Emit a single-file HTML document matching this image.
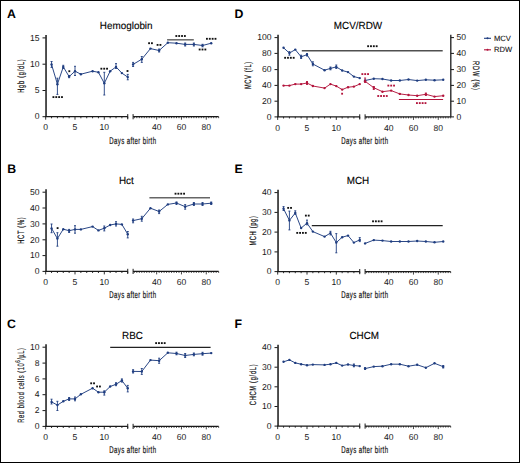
<!DOCTYPE html>
<html><head><meta charset="utf-8"><title>Figure</title>
<style>
html,body{margin:0;padding:0;background:#fff;}
body{width:520px;height:463px;overflow:hidden;}
svg{display:block;font-family:"Liberation Sans", sans-serif;text-rendering:geometricPrecision;}
</style></head>
<body>
<svg width="520" height="463" viewBox="0 0 520 463">
<rect x="0" y="0" width="520" height="463" fill="#fff"/>
<text x="7.00" y="17.90" font-size="12.3" text-anchor="start" font-weight="bold" fill="#000" >A</text>
<text x="7.30" y="172.80" font-size="12.3" text-anchor="start" font-weight="bold" fill="#000" >B</text>
<text x="7.00" y="327.80" font-size="12.3" text-anchor="start" font-weight="bold" fill="#000" >C</text>
<text x="234.60" y="17.90" font-size="12.3" text-anchor="start" font-weight="bold" fill="#000" >D</text>
<text x="234.60" y="172.80" font-size="12.3" text-anchor="start" font-weight="bold" fill="#000" >E</text>
<text x="234.60" y="327.80" font-size="12.3" text-anchor="start" font-weight="bold" fill="#000" >F</text>
<text transform="translate(126.20,29.20) scale(1,1.04)" x="0" y="0" font-size="9.9" text-anchor="middle" font-weight="normal" fill="#000" stroke="#000" stroke-width="0.12">Hemoglobin</text>
<text transform="translate(126.30,184.10) scale(1,1.04)" x="0" y="0" font-size="9.9" text-anchor="middle" font-weight="normal" fill="#000" stroke="#000" stroke-width="0.12">Hct</text>
<text transform="translate(132.50,338.70) scale(1,1.04)" x="0" y="0" font-size="9.9" text-anchor="middle" font-weight="normal" fill="#000" stroke="#000" stroke-width="0.12">RBC</text>
<text transform="translate(358.00,29.20) scale(1,1.04)" x="0" y="0" font-size="9.9" text-anchor="middle" font-weight="normal" fill="#000" stroke="#000" stroke-width="0.12">MCV/RDW</text>
<text transform="translate(358.00,183.90) scale(1,1.04)" x="0" y="0" font-size="9.9" text-anchor="middle" font-weight="normal" fill="#000" stroke="#000" stroke-width="0.12">MCH</text>
<text transform="translate(364.20,338.80) scale(1,1.04)" x="0" y="0" font-size="9.9" text-anchor="middle" font-weight="normal" fill="#000" stroke="#000" stroke-width="0.12">CHCM</text>
<line x1="46.05" y1="35.00" x2="46.05" y2="116.7" stroke="#484848" stroke-width="1.9"/>
<line x1="42.5" y1="116.70" x2="45.7" y2="116.70" stroke="#1a1a1a" stroke-width="1"/>
<text x="39.60" y="119.45" font-size="8.6" text-anchor="end" font-weight="normal" fill="#1a1a1a" >0</text>
<line x1="42.5" y1="90.50" x2="45.7" y2="90.50" stroke="#1a1a1a" stroke-width="1"/>
<text x="39.60" y="93.25" font-size="8.6" text-anchor="end" font-weight="normal" fill="#1a1a1a" >5</text>
<line x1="42.5" y1="64.20" x2="45.7" y2="64.20" stroke="#1a1a1a" stroke-width="1"/>
<text x="39.60" y="66.95" font-size="8.6" text-anchor="end" font-weight="normal" fill="#1a1a1a" >10</text>
<line x1="42.5" y1="37.90" x2="45.7" y2="37.90" stroke="#1a1a1a" stroke-width="1"/>
<text x="39.60" y="40.65" font-size="8.6" text-anchor="end" font-weight="normal" fill="#1a1a1a" >15</text>
<line x1="45.1" y1="116.7" x2="127.74" y2="116.7" stroke="#1a1a1a" stroke-width="1.3"/>
<line x1="127.74" y1="114.10000000000001" x2="127.74" y2="119.3" stroke="#1a1a1a" stroke-width="1"/>
<line x1="45.70" y1="116.7" x2="45.70" y2="119.7" stroke="#1a1a1a" stroke-width="0.9"/>
<line x1="51.56" y1="116.7" x2="51.56" y2="118.3" stroke="#1a1a1a" stroke-width="0.9"/>
<line x1="57.42" y1="116.7" x2="57.42" y2="118.3" stroke="#1a1a1a" stroke-width="0.9"/>
<line x1="63.28" y1="116.7" x2="63.28" y2="118.3" stroke="#1a1a1a" stroke-width="0.9"/>
<line x1="69.14" y1="116.7" x2="69.14" y2="118.3" stroke="#1a1a1a" stroke-width="0.9"/>
<line x1="75.00" y1="116.7" x2="75.00" y2="119.7" stroke="#1a1a1a" stroke-width="0.9"/>
<line x1="80.86" y1="116.7" x2="80.86" y2="118.3" stroke="#1a1a1a" stroke-width="0.9"/>
<line x1="86.72" y1="116.7" x2="86.72" y2="118.3" stroke="#1a1a1a" stroke-width="0.9"/>
<line x1="92.58" y1="116.7" x2="92.58" y2="118.3" stroke="#1a1a1a" stroke-width="0.9"/>
<line x1="98.44" y1="116.7" x2="98.44" y2="118.3" stroke="#1a1a1a" stroke-width="0.9"/>
<line x1="104.30" y1="116.7" x2="104.30" y2="119.7" stroke="#1a1a1a" stroke-width="0.9"/>
<line x1="110.16" y1="116.7" x2="110.16" y2="118.3" stroke="#1a1a1a" stroke-width="0.9"/>
<line x1="116.02" y1="116.7" x2="116.02" y2="118.3" stroke="#1a1a1a" stroke-width="0.9"/>
<line x1="121.88" y1="116.7" x2="121.88" y2="118.3" stroke="#1a1a1a" stroke-width="0.9"/>
<line x1="127.74" y1="116.7" x2="127.74" y2="118.3" stroke="#1a1a1a" stroke-width="0.9"/>
<text x="45.70" y="130.30" font-size="8.6" text-anchor="middle" font-weight="normal" fill="#1a1a1a" >0</text>
<text x="75.00" y="130.30" font-size="8.6" text-anchor="middle" font-weight="normal" fill="#1a1a1a" >5</text>
<text x="104.30" y="130.30" font-size="8.6" text-anchor="middle" font-weight="normal" fill="#1a1a1a" >10</text>
<line x1="133.10" y1="116.7" x2="218.66" y2="116.7" stroke="#1a1a1a" stroke-width="1.3"/>
<line x1="133.10" y1="114.10000000000001" x2="133.10" y2="119.3" stroke="#1a1a1a" stroke-width="1"/>
<line x1="134.34" y1="116.7" x2="134.34" y2="118.2" stroke="#1a1a1a" stroke-width="0.8"/>
<line x1="136.82" y1="116.7" x2="136.82" y2="118.2" stroke="#1a1a1a" stroke-width="0.8"/>
<line x1="139.30" y1="116.7" x2="139.30" y2="118.2" stroke="#1a1a1a" stroke-width="0.8"/>
<line x1="141.78" y1="116.7" x2="141.78" y2="118.2" stroke="#1a1a1a" stroke-width="0.8"/>
<line x1="144.26" y1="116.7" x2="144.26" y2="118.2" stroke="#1a1a1a" stroke-width="0.8"/>
<line x1="146.74" y1="116.7" x2="146.74" y2="118.2" stroke="#1a1a1a" stroke-width="0.8"/>
<line x1="149.22" y1="116.7" x2="149.22" y2="118.2" stroke="#1a1a1a" stroke-width="0.8"/>
<line x1="151.70" y1="116.7" x2="151.70" y2="118.2" stroke="#1a1a1a" stroke-width="0.8"/>
<line x1="154.18" y1="116.7" x2="154.18" y2="118.2" stroke="#1a1a1a" stroke-width="0.8"/>
<line x1="156.66" y1="116.7" x2="156.66" y2="119.7" stroke="#1a1a1a" stroke-width="0.8"/>
<line x1="159.14" y1="116.7" x2="159.14" y2="118.2" stroke="#1a1a1a" stroke-width="0.8"/>
<line x1="161.62" y1="116.7" x2="161.62" y2="118.2" stroke="#1a1a1a" stroke-width="0.8"/>
<line x1="164.10" y1="116.7" x2="164.10" y2="118.2" stroke="#1a1a1a" stroke-width="0.8"/>
<line x1="166.58" y1="116.7" x2="166.58" y2="118.2" stroke="#1a1a1a" stroke-width="0.8"/>
<line x1="169.06" y1="116.7" x2="169.06" y2="118.2" stroke="#1a1a1a" stroke-width="0.8"/>
<line x1="171.54" y1="116.7" x2="171.54" y2="118.2" stroke="#1a1a1a" stroke-width="0.8"/>
<line x1="174.02" y1="116.7" x2="174.02" y2="118.2" stroke="#1a1a1a" stroke-width="0.8"/>
<line x1="176.50" y1="116.7" x2="176.50" y2="118.2" stroke="#1a1a1a" stroke-width="0.8"/>
<line x1="178.98" y1="116.7" x2="178.98" y2="118.2" stroke="#1a1a1a" stroke-width="0.8"/>
<line x1="181.46" y1="116.7" x2="181.46" y2="119.7" stroke="#1a1a1a" stroke-width="0.8"/>
<line x1="183.94" y1="116.7" x2="183.94" y2="118.2" stroke="#1a1a1a" stroke-width="0.8"/>
<line x1="186.42" y1="116.7" x2="186.42" y2="118.2" stroke="#1a1a1a" stroke-width="0.8"/>
<line x1="188.90" y1="116.7" x2="188.90" y2="118.2" stroke="#1a1a1a" stroke-width="0.8"/>
<line x1="191.38" y1="116.7" x2="191.38" y2="118.2" stroke="#1a1a1a" stroke-width="0.8"/>
<line x1="193.86" y1="116.7" x2="193.86" y2="118.2" stroke="#1a1a1a" stroke-width="0.8"/>
<line x1="196.34" y1="116.7" x2="196.34" y2="118.2" stroke="#1a1a1a" stroke-width="0.8"/>
<line x1="198.82" y1="116.7" x2="198.82" y2="118.2" stroke="#1a1a1a" stroke-width="0.8"/>
<line x1="201.30" y1="116.7" x2="201.30" y2="118.2" stroke="#1a1a1a" stroke-width="0.8"/>
<line x1="203.78" y1="116.7" x2="203.78" y2="118.2" stroke="#1a1a1a" stroke-width="0.8"/>
<line x1="206.26" y1="116.7" x2="206.26" y2="119.7" stroke="#1a1a1a" stroke-width="0.8"/>
<line x1="208.74" y1="116.7" x2="208.74" y2="118.2" stroke="#1a1a1a" stroke-width="0.8"/>
<line x1="211.22" y1="116.7" x2="211.22" y2="118.2" stroke="#1a1a1a" stroke-width="0.8"/>
<line x1="213.70" y1="116.7" x2="213.70" y2="118.2" stroke="#1a1a1a" stroke-width="0.8"/>
<line x1="216.18" y1="116.7" x2="216.18" y2="118.2" stroke="#1a1a1a" stroke-width="0.8"/>
<line x1="218.66" y1="116.7" x2="218.66" y2="118.2" stroke="#1a1a1a" stroke-width="0.8"/>
<text x="156.66" y="130.30" font-size="8.6" text-anchor="middle" font-weight="normal" fill="#1a1a1a" >40</text>
<text x="181.46" y="130.30" font-size="8.6" text-anchor="middle" font-weight="normal" fill="#1a1a1a" >60</text>
<text x="206.26" y="130.30" font-size="8.6" text-anchor="middle" font-weight="normal" fill="#1a1a1a" >80</text>
<g transform="translate(132.68,143.70) rotate(0) scale(0.62,1)"><text x="0" y="0" font-size="9.8" text-anchor="middle" fill="#111" stroke="#111" stroke-width="0.2" textLength="75.32" lengthAdjust="spacing">Days after birth</text></g>
<g transform="translate(23.60,76.00) rotate(-90) scale(0.62,1)"><text x="0" y="0" font-size="9.2" text-anchor="middle" fill="#111" stroke="#111" stroke-width="0.22" textLength="54.03" lengthAdjust="spacing">Hgb (g/dL)</text></g>
<polyline points="51.56,64.50 57.42,84.20 63.28,66.90 69.14,76.60 75.00,71.20 80.86,74.20 92.58,71.20 98.44,72.30 104.30,83.30 110.16,71.20 116.02,66.90 121.88,73.10 127.74,77.10" fill="none" stroke="#1f3d80" stroke-width="0.95" stroke-linejoin="round"/>
<polyline points="133.10,64.40 141.78,59.20 150.46,48.60 159.14,50.50 167.82,42.70 176.50,43.20 185.18,44.40 193.86,44.40 202.54,45.50 211.22,43.20" fill="none" stroke="#1f3d80" stroke-width="0.95" stroke-linejoin="round"/>
<line x1="51.56" y1="61.50" x2="51.56" y2="67.40" stroke="#1f3d80" stroke-width="0.9"/>
<line x1="50.56" y1="61.50" x2="52.56" y2="61.50" stroke="#1f3d80" stroke-width="0.9"/>
<line x1="50.56" y1="67.40" x2="52.56" y2="67.40" stroke="#1f3d80" stroke-width="0.9"/>
<circle cx="51.56" cy="64.50" r="1.2" fill="#1f3d80"/>
<line x1="57.42" y1="78.20" x2="57.42" y2="94.40" stroke="#1f3d80" stroke-width="0.9"/>
<line x1="56.42" y1="78.20" x2="58.42" y2="78.20" stroke="#1f3d80" stroke-width="0.9"/>
<line x1="56.42" y1="94.40" x2="58.42" y2="94.40" stroke="#1f3d80" stroke-width="0.9"/>
<circle cx="57.42" cy="84.20" r="1.2" fill="#1f3d80"/>
<line x1="63.28" y1="65.30" x2="63.28" y2="68.50" stroke="#1f3d80" stroke-width="0.9"/>
<line x1="62.28" y1="65.30" x2="64.28" y2="65.30" stroke="#1f3d80" stroke-width="0.9"/>
<line x1="62.28" y1="68.50" x2="64.28" y2="68.50" stroke="#1f3d80" stroke-width="0.9"/>
<circle cx="63.28" cy="66.90" r="1.2" fill="#1f3d80"/>
<line x1="69.14" y1="75.50" x2="69.14" y2="77.70" stroke="#1f3d80" stroke-width="0.9"/>
<line x1="68.14" y1="75.50" x2="70.14" y2="75.50" stroke="#1f3d80" stroke-width="0.9"/>
<line x1="68.14" y1="77.70" x2="70.14" y2="77.70" stroke="#1f3d80" stroke-width="0.9"/>
<circle cx="69.14" cy="76.60" r="1.2" fill="#1f3d80"/>
<line x1="75.00" y1="66.30" x2="75.00" y2="75.50" stroke="#1f3d80" stroke-width="0.9"/>
<line x1="74.00" y1="66.30" x2="76.00" y2="66.30" stroke="#1f3d80" stroke-width="0.9"/>
<line x1="74.00" y1="75.50" x2="76.00" y2="75.50" stroke="#1f3d80" stroke-width="0.9"/>
<circle cx="75.00" cy="71.20" r="1.2" fill="#1f3d80"/>
<circle cx="80.86" cy="74.20" r="1.2" fill="#1f3d80"/>
<circle cx="92.58" cy="71.20" r="1.2" fill="#1f3d80"/>
<circle cx="98.44" cy="72.30" r="1.2" fill="#1f3d80"/>
<line x1="104.30" y1="72.30" x2="104.30" y2="95.00" stroke="#1f3d80" stroke-width="0.9"/>
<line x1="103.30" y1="72.30" x2="105.30" y2="72.30" stroke="#1f3d80" stroke-width="0.9"/>
<line x1="103.30" y1="95.00" x2="105.30" y2="95.00" stroke="#1f3d80" stroke-width="0.9"/>
<circle cx="104.30" cy="83.30" r="1.2" fill="#1f3d80"/>
<circle cx="110.16" cy="71.20" r="1.2" fill="#1f3d80"/>
<line x1="116.02" y1="63.60" x2="116.02" y2="68.50" stroke="#1f3d80" stroke-width="0.9"/>
<line x1="115.02" y1="63.60" x2="117.02" y2="63.60" stroke="#1f3d80" stroke-width="0.9"/>
<line x1="115.02" y1="68.50" x2="117.02" y2="68.50" stroke="#1f3d80" stroke-width="0.9"/>
<circle cx="116.02" cy="66.90" r="1.2" fill="#1f3d80"/>
<circle cx="121.88" cy="73.10" r="1.2" fill="#1f3d80"/>
<line x1="127.74" y1="74.40" x2="127.74" y2="79.80" stroke="#1f3d80" stroke-width="0.9"/>
<line x1="126.74" y1="74.40" x2="128.74" y2="74.40" stroke="#1f3d80" stroke-width="0.9"/>
<line x1="126.74" y1="79.80" x2="128.74" y2="79.80" stroke="#1f3d80" stroke-width="0.9"/>
<circle cx="127.74" cy="77.10" r="1.2" fill="#1f3d80"/>
<line x1="133.10" y1="62.40" x2="133.10" y2="66.50" stroke="#1f3d80" stroke-width="0.9"/>
<line x1="132.10" y1="62.40" x2="134.10" y2="62.40" stroke="#1f3d80" stroke-width="0.9"/>
<line x1="132.10" y1="66.50" x2="134.10" y2="66.50" stroke="#1f3d80" stroke-width="0.9"/>
<circle cx="133.10" cy="64.40" r="1.2" fill="#1f3d80"/>
<line x1="141.78" y1="56.50" x2="141.78" y2="62.40" stroke="#1f3d80" stroke-width="0.9"/>
<line x1="140.78" y1="56.50" x2="142.78" y2="56.50" stroke="#1f3d80" stroke-width="0.9"/>
<line x1="140.78" y1="62.40" x2="142.78" y2="62.40" stroke="#1f3d80" stroke-width="0.9"/>
<circle cx="141.78" cy="59.20" r="1.2" fill="#1f3d80"/>
<circle cx="150.46" cy="48.60" r="1.2" fill="#1f3d80"/>
<line x1="159.14" y1="49.00" x2="159.14" y2="52.00" stroke="#1f3d80" stroke-width="0.9"/>
<line x1="158.14" y1="49.00" x2="160.14" y2="49.00" stroke="#1f3d80" stroke-width="0.9"/>
<line x1="158.14" y1="52.00" x2="160.14" y2="52.00" stroke="#1f3d80" stroke-width="0.9"/>
<circle cx="159.14" cy="50.50" r="1.2" fill="#1f3d80"/>
<circle cx="167.82" cy="42.70" r="1.2" fill="#1f3d80"/>
<circle cx="176.50" cy="43.20" r="1.2" fill="#1f3d80"/>
<line x1="185.18" y1="43.00" x2="185.18" y2="46.00" stroke="#1f3d80" stroke-width="0.9"/>
<line x1="184.18" y1="43.00" x2="186.18" y2="43.00" stroke="#1f3d80" stroke-width="0.9"/>
<line x1="184.18" y1="46.00" x2="186.18" y2="46.00" stroke="#1f3d80" stroke-width="0.9"/>
<circle cx="185.18" cy="44.40" r="1.2" fill="#1f3d80"/>
<line x1="193.86" y1="43.00" x2="193.86" y2="46.00" stroke="#1f3d80" stroke-width="0.9"/>
<line x1="192.86" y1="43.00" x2="194.86" y2="43.00" stroke="#1f3d80" stroke-width="0.9"/>
<line x1="192.86" y1="46.00" x2="194.86" y2="46.00" stroke="#1f3d80" stroke-width="0.9"/>
<circle cx="193.86" cy="44.40" r="1.2" fill="#1f3d80"/>
<line x1="202.54" y1="44.30" x2="202.54" y2="46.80" stroke="#1f3d80" stroke-width="0.9"/>
<line x1="201.54" y1="44.30" x2="203.54" y2="44.30" stroke="#1f3d80" stroke-width="0.9"/>
<line x1="201.54" y1="46.80" x2="203.54" y2="46.80" stroke="#1f3d80" stroke-width="0.9"/>
<circle cx="202.54" cy="45.50" r="1.2" fill="#1f3d80"/>
<circle cx="211.22" cy="43.20" r="1.2" fill="#1f3d80"/>
<rect x="52.50" y="96.17" width="1.85" height="1.85" fill="#111"/>
<rect x="55.35" y="96.17" width="1.85" height="1.85" fill="#111"/>
<rect x="58.20" y="96.17" width="1.85" height="1.85" fill="#111"/>
<rect x="61.05" y="96.17" width="1.85" height="1.85" fill="#111"/>
<rect x="68.38" y="70.28" width="1.85" height="1.85" fill="#111"/>
<rect x="100.43" y="67.78" width="1.85" height="1.85" fill="#111"/>
<rect x="103.28" y="67.78" width="1.85" height="1.85" fill="#111"/>
<rect x="106.13" y="67.78" width="1.85" height="1.85" fill="#111"/>
<rect x="126.58" y="70.08" width="1.85" height="1.85" fill="#111"/>
<rect x="148.15" y="42.28" width="1.85" height="1.85" fill="#111"/>
<rect x="151.00" y="42.28" width="1.85" height="1.85" fill="#111"/>
<rect x="156.65" y="43.98" width="1.85" height="1.85" fill="#111"/>
<rect x="159.50" y="43.98" width="1.85" height="1.85" fill="#111"/>
<line x1="167.1" y1="39.8" x2="193.8" y2="39.8" stroke="#666" stroke-width="1.5"/>
<rect x="175.40" y="35.08" width="1.85" height="1.85" fill="#111"/>
<rect x="178.25" y="35.08" width="1.85" height="1.85" fill="#111"/>
<rect x="181.10" y="35.08" width="1.85" height="1.85" fill="#111"/>
<rect x="183.95" y="35.08" width="1.85" height="1.85" fill="#111"/>
<rect x="198.72" y="48.58" width="1.85" height="1.85" fill="#111"/>
<rect x="201.57" y="48.58" width="1.85" height="1.85" fill="#111"/>
<rect x="204.42" y="48.58" width="1.85" height="1.85" fill="#111"/>
<rect x="206.00" y="37.88" width="1.85" height="1.85" fill="#111"/>
<rect x="208.85" y="37.88" width="1.85" height="1.85" fill="#111"/>
<rect x="211.70" y="37.88" width="1.85" height="1.85" fill="#111"/>
<rect x="214.55" y="37.88" width="1.85" height="1.85" fill="#111"/>
<line x1="46.05" y1="189.30" x2="46.05" y2="271.4" stroke="#484848" stroke-width="1.9"/>
<line x1="42.5" y1="271.40" x2="45.7" y2="271.40" stroke="#1a1a1a" stroke-width="1"/>
<text x="39.60" y="274.15" font-size="8.6" text-anchor="end" font-weight="normal" fill="#1a1a1a" >0</text>
<line x1="42.5" y1="255.60" x2="45.7" y2="255.60" stroke="#1a1a1a" stroke-width="1"/>
<text x="39.60" y="258.35" font-size="8.6" text-anchor="end" font-weight="normal" fill="#1a1a1a" >10</text>
<line x1="42.5" y1="239.80" x2="45.7" y2="239.80" stroke="#1a1a1a" stroke-width="1"/>
<text x="39.60" y="242.55" font-size="8.6" text-anchor="end" font-weight="normal" fill="#1a1a1a" >20</text>
<line x1="42.5" y1="223.90" x2="45.7" y2="223.90" stroke="#1a1a1a" stroke-width="1"/>
<text x="39.60" y="226.65" font-size="8.6" text-anchor="end" font-weight="normal" fill="#1a1a1a" >30</text>
<line x1="42.5" y1="208.00" x2="45.7" y2="208.00" stroke="#1a1a1a" stroke-width="1"/>
<text x="39.60" y="210.75" font-size="8.6" text-anchor="end" font-weight="normal" fill="#1a1a1a" >40</text>
<line x1="42.5" y1="192.20" x2="45.7" y2="192.20" stroke="#1a1a1a" stroke-width="1"/>
<text x="39.60" y="194.95" font-size="8.6" text-anchor="end" font-weight="normal" fill="#1a1a1a" >50</text>
<line x1="45.1" y1="271.4" x2="127.74" y2="271.4" stroke="#1a1a1a" stroke-width="1.3"/>
<line x1="127.74" y1="268.79999999999995" x2="127.74" y2="274.0" stroke="#1a1a1a" stroke-width="1"/>
<line x1="45.70" y1="271.4" x2="45.70" y2="274.4" stroke="#1a1a1a" stroke-width="0.9"/>
<line x1="51.56" y1="271.4" x2="51.56" y2="273.0" stroke="#1a1a1a" stroke-width="0.9"/>
<line x1="57.42" y1="271.4" x2="57.42" y2="273.0" stroke="#1a1a1a" stroke-width="0.9"/>
<line x1="63.28" y1="271.4" x2="63.28" y2="273.0" stroke="#1a1a1a" stroke-width="0.9"/>
<line x1="69.14" y1="271.4" x2="69.14" y2="273.0" stroke="#1a1a1a" stroke-width="0.9"/>
<line x1="75.00" y1="271.4" x2="75.00" y2="274.4" stroke="#1a1a1a" stroke-width="0.9"/>
<line x1="80.86" y1="271.4" x2="80.86" y2="273.0" stroke="#1a1a1a" stroke-width="0.9"/>
<line x1="86.72" y1="271.4" x2="86.72" y2="273.0" stroke="#1a1a1a" stroke-width="0.9"/>
<line x1="92.58" y1="271.4" x2="92.58" y2="273.0" stroke="#1a1a1a" stroke-width="0.9"/>
<line x1="98.44" y1="271.4" x2="98.44" y2="273.0" stroke="#1a1a1a" stroke-width="0.9"/>
<line x1="104.30" y1="271.4" x2="104.30" y2="274.4" stroke="#1a1a1a" stroke-width="0.9"/>
<line x1="110.16" y1="271.4" x2="110.16" y2="273.0" stroke="#1a1a1a" stroke-width="0.9"/>
<line x1="116.02" y1="271.4" x2="116.02" y2="273.0" stroke="#1a1a1a" stroke-width="0.9"/>
<line x1="121.88" y1="271.4" x2="121.88" y2="273.0" stroke="#1a1a1a" stroke-width="0.9"/>
<line x1="127.74" y1="271.4" x2="127.74" y2="273.0" stroke="#1a1a1a" stroke-width="0.9"/>
<text x="45.70" y="285.00" font-size="8.6" text-anchor="middle" font-weight="normal" fill="#1a1a1a" >0</text>
<text x="75.00" y="285.00" font-size="8.6" text-anchor="middle" font-weight="normal" fill="#1a1a1a" >5</text>
<text x="104.30" y="285.00" font-size="8.6" text-anchor="middle" font-weight="normal" fill="#1a1a1a" >10</text>
<line x1="133.10" y1="271.4" x2="218.66" y2="271.4" stroke="#1a1a1a" stroke-width="1.3"/>
<line x1="133.10" y1="268.79999999999995" x2="133.10" y2="274.0" stroke="#1a1a1a" stroke-width="1"/>
<line x1="134.34" y1="271.4" x2="134.34" y2="272.9" stroke="#1a1a1a" stroke-width="0.8"/>
<line x1="136.82" y1="271.4" x2="136.82" y2="272.9" stroke="#1a1a1a" stroke-width="0.8"/>
<line x1="139.30" y1="271.4" x2="139.30" y2="272.9" stroke="#1a1a1a" stroke-width="0.8"/>
<line x1="141.78" y1="271.4" x2="141.78" y2="272.9" stroke="#1a1a1a" stroke-width="0.8"/>
<line x1="144.26" y1="271.4" x2="144.26" y2="272.9" stroke="#1a1a1a" stroke-width="0.8"/>
<line x1="146.74" y1="271.4" x2="146.74" y2="272.9" stroke="#1a1a1a" stroke-width="0.8"/>
<line x1="149.22" y1="271.4" x2="149.22" y2="272.9" stroke="#1a1a1a" stroke-width="0.8"/>
<line x1="151.70" y1="271.4" x2="151.70" y2="272.9" stroke="#1a1a1a" stroke-width="0.8"/>
<line x1="154.18" y1="271.4" x2="154.18" y2="272.9" stroke="#1a1a1a" stroke-width="0.8"/>
<line x1="156.66" y1="271.4" x2="156.66" y2="274.4" stroke="#1a1a1a" stroke-width="0.8"/>
<line x1="159.14" y1="271.4" x2="159.14" y2="272.9" stroke="#1a1a1a" stroke-width="0.8"/>
<line x1="161.62" y1="271.4" x2="161.62" y2="272.9" stroke="#1a1a1a" stroke-width="0.8"/>
<line x1="164.10" y1="271.4" x2="164.10" y2="272.9" stroke="#1a1a1a" stroke-width="0.8"/>
<line x1="166.58" y1="271.4" x2="166.58" y2="272.9" stroke="#1a1a1a" stroke-width="0.8"/>
<line x1="169.06" y1="271.4" x2="169.06" y2="272.9" stroke="#1a1a1a" stroke-width="0.8"/>
<line x1="171.54" y1="271.4" x2="171.54" y2="272.9" stroke="#1a1a1a" stroke-width="0.8"/>
<line x1="174.02" y1="271.4" x2="174.02" y2="272.9" stroke="#1a1a1a" stroke-width="0.8"/>
<line x1="176.50" y1="271.4" x2="176.50" y2="272.9" stroke="#1a1a1a" stroke-width="0.8"/>
<line x1="178.98" y1="271.4" x2="178.98" y2="272.9" stroke="#1a1a1a" stroke-width="0.8"/>
<line x1="181.46" y1="271.4" x2="181.46" y2="274.4" stroke="#1a1a1a" stroke-width="0.8"/>
<line x1="183.94" y1="271.4" x2="183.94" y2="272.9" stroke="#1a1a1a" stroke-width="0.8"/>
<line x1="186.42" y1="271.4" x2="186.42" y2="272.9" stroke="#1a1a1a" stroke-width="0.8"/>
<line x1="188.90" y1="271.4" x2="188.90" y2="272.9" stroke="#1a1a1a" stroke-width="0.8"/>
<line x1="191.38" y1="271.4" x2="191.38" y2="272.9" stroke="#1a1a1a" stroke-width="0.8"/>
<line x1="193.86" y1="271.4" x2="193.86" y2="272.9" stroke="#1a1a1a" stroke-width="0.8"/>
<line x1="196.34" y1="271.4" x2="196.34" y2="272.9" stroke="#1a1a1a" stroke-width="0.8"/>
<line x1="198.82" y1="271.4" x2="198.82" y2="272.9" stroke="#1a1a1a" stroke-width="0.8"/>
<line x1="201.30" y1="271.4" x2="201.30" y2="272.9" stroke="#1a1a1a" stroke-width="0.8"/>
<line x1="203.78" y1="271.4" x2="203.78" y2="272.9" stroke="#1a1a1a" stroke-width="0.8"/>
<line x1="206.26" y1="271.4" x2="206.26" y2="274.4" stroke="#1a1a1a" stroke-width="0.8"/>
<line x1="208.74" y1="271.4" x2="208.74" y2="272.9" stroke="#1a1a1a" stroke-width="0.8"/>
<line x1="211.22" y1="271.4" x2="211.22" y2="272.9" stroke="#1a1a1a" stroke-width="0.8"/>
<line x1="213.70" y1="271.4" x2="213.70" y2="272.9" stroke="#1a1a1a" stroke-width="0.8"/>
<line x1="216.18" y1="271.4" x2="216.18" y2="272.9" stroke="#1a1a1a" stroke-width="0.8"/>
<line x1="218.66" y1="271.4" x2="218.66" y2="272.9" stroke="#1a1a1a" stroke-width="0.8"/>
<text x="156.66" y="285.00" font-size="8.6" text-anchor="middle" font-weight="normal" fill="#1a1a1a" >40</text>
<text x="181.46" y="285.00" font-size="8.6" text-anchor="middle" font-weight="normal" fill="#1a1a1a" >60</text>
<text x="206.26" y="285.00" font-size="8.6" text-anchor="middle" font-weight="normal" fill="#1a1a1a" >80</text>
<g transform="translate(132.68,298.40) rotate(0) scale(0.62,1)"><text x="0" y="0" font-size="9.8" text-anchor="middle" fill="#111" stroke="#111" stroke-width="0.2" textLength="75.32" lengthAdjust="spacing">Days after birth</text></g>
<g transform="translate(23.90,230.60) rotate(-90) scale(0.62,1)"><text x="0" y="0" font-size="9.2" text-anchor="middle" fill="#111" stroke="#111" stroke-width="0.22" textLength="42.58" lengthAdjust="spacing">HCT (%)</text></g>
<polyline points="51.56,228.40 57.42,238.60 63.28,229.20 69.14,230.70 75.00,229.40 80.86,229.40 92.58,226.60 98.44,230.40 104.30,228.20 110.16,225.00 116.02,223.90 121.88,224.40 127.74,234.20" fill="none" stroke="#1f3d80" stroke-width="0.95" stroke-linejoin="round"/>
<polyline points="133.10,220.60 141.78,218.70 150.46,208.20 159.14,211.50 167.82,204.40 176.50,203.00 185.18,206.70 193.86,204.00 202.54,204.00 211.22,203.20" fill="none" stroke="#1f3d80" stroke-width="0.95" stroke-linejoin="round"/>
<line x1="51.56" y1="224.00" x2="51.56" y2="232.70" stroke="#1f3d80" stroke-width="0.9"/>
<line x1="50.56" y1="224.00" x2="52.56" y2="224.00" stroke="#1f3d80" stroke-width="0.9"/>
<line x1="50.56" y1="232.70" x2="52.56" y2="232.70" stroke="#1f3d80" stroke-width="0.9"/>
<circle cx="51.56" cy="228.40" r="1.2" fill="#1f3d80"/>
<line x1="57.42" y1="232.70" x2="57.42" y2="246.20" stroke="#1f3d80" stroke-width="0.9"/>
<line x1="56.42" y1="232.70" x2="58.42" y2="232.70" stroke="#1f3d80" stroke-width="0.9"/>
<line x1="56.42" y1="246.20" x2="58.42" y2="246.20" stroke="#1f3d80" stroke-width="0.9"/>
<circle cx="57.42" cy="238.60" r="1.2" fill="#1f3d80"/>
<circle cx="63.28" cy="229.20" r="1.2" fill="#1f3d80"/>
<line x1="69.14" y1="229.40" x2="69.14" y2="232.50" stroke="#1f3d80" stroke-width="0.9"/>
<line x1="68.14" y1="229.40" x2="70.14" y2="229.40" stroke="#1f3d80" stroke-width="0.9"/>
<line x1="68.14" y1="232.50" x2="70.14" y2="232.50" stroke="#1f3d80" stroke-width="0.9"/>
<circle cx="69.14" cy="230.70" r="1.2" fill="#1f3d80"/>
<line x1="75.00" y1="225.70" x2="75.00" y2="233.20" stroke="#1f3d80" stroke-width="0.9"/>
<line x1="74.00" y1="225.70" x2="76.00" y2="225.70" stroke="#1f3d80" stroke-width="0.9"/>
<line x1="74.00" y1="233.20" x2="76.00" y2="233.20" stroke="#1f3d80" stroke-width="0.9"/>
<circle cx="75.00" cy="229.40" r="1.2" fill="#1f3d80"/>
<circle cx="80.86" cy="229.40" r="1.2" fill="#1f3d80"/>
<circle cx="92.58" cy="226.60" r="1.2" fill="#1f3d80"/>
<circle cx="98.44" cy="230.40" r="1.2" fill="#1f3d80"/>
<line x1="104.30" y1="226.00" x2="104.30" y2="230.90" stroke="#1f3d80" stroke-width="0.9"/>
<line x1="103.30" y1="226.00" x2="105.30" y2="226.00" stroke="#1f3d80" stroke-width="0.9"/>
<line x1="103.30" y1="230.90" x2="105.30" y2="230.90" stroke="#1f3d80" stroke-width="0.9"/>
<circle cx="104.30" cy="228.20" r="1.2" fill="#1f3d80"/>
<circle cx="110.16" cy="225.00" r="1.2" fill="#1f3d80"/>
<line x1="116.02" y1="221.70" x2="116.02" y2="226.00" stroke="#1f3d80" stroke-width="0.9"/>
<line x1="115.02" y1="221.70" x2="117.02" y2="221.70" stroke="#1f3d80" stroke-width="0.9"/>
<line x1="115.02" y1="226.00" x2="117.02" y2="226.00" stroke="#1f3d80" stroke-width="0.9"/>
<circle cx="116.02" cy="223.90" r="1.2" fill="#1f3d80"/>
<circle cx="121.88" cy="224.40" r="1.2" fill="#1f3d80"/>
<line x1="127.74" y1="231.50" x2="127.74" y2="237.90" stroke="#1f3d80" stroke-width="0.9"/>
<line x1="126.74" y1="231.50" x2="128.74" y2="231.50" stroke="#1f3d80" stroke-width="0.9"/>
<line x1="126.74" y1="237.90" x2="128.74" y2="237.90" stroke="#1f3d80" stroke-width="0.9"/>
<circle cx="127.74" cy="234.20" r="1.2" fill="#1f3d80"/>
<line x1="133.10" y1="219.00" x2="133.10" y2="222.80" stroke="#1f3d80" stroke-width="0.9"/>
<line x1="132.10" y1="219.00" x2="134.10" y2="219.00" stroke="#1f3d80" stroke-width="0.9"/>
<line x1="132.10" y1="222.80" x2="134.10" y2="222.80" stroke="#1f3d80" stroke-width="0.9"/>
<circle cx="133.10" cy="220.60" r="1.2" fill="#1f3d80"/>
<line x1="141.78" y1="216.30" x2="141.78" y2="221.20" stroke="#1f3d80" stroke-width="0.9"/>
<line x1="140.78" y1="216.30" x2="142.78" y2="216.30" stroke="#1f3d80" stroke-width="0.9"/>
<line x1="140.78" y1="221.20" x2="142.78" y2="221.20" stroke="#1f3d80" stroke-width="0.9"/>
<circle cx="141.78" cy="218.70" r="1.2" fill="#1f3d80"/>
<circle cx="150.46" cy="208.20" r="1.2" fill="#1f3d80"/>
<line x1="159.14" y1="210.00" x2="159.14" y2="213.60" stroke="#1f3d80" stroke-width="0.9"/>
<line x1="158.14" y1="210.00" x2="160.14" y2="210.00" stroke="#1f3d80" stroke-width="0.9"/>
<line x1="158.14" y1="213.60" x2="160.14" y2="213.60" stroke="#1f3d80" stroke-width="0.9"/>
<circle cx="159.14" cy="211.50" r="1.2" fill="#1f3d80"/>
<circle cx="167.82" cy="204.40" r="1.2" fill="#1f3d80"/>
<line x1="176.50" y1="202.00" x2="176.50" y2="204.50" stroke="#1f3d80" stroke-width="0.9"/>
<line x1="175.50" y1="202.00" x2="177.50" y2="202.00" stroke="#1f3d80" stroke-width="0.9"/>
<line x1="175.50" y1="204.50" x2="177.50" y2="204.50" stroke="#1f3d80" stroke-width="0.9"/>
<circle cx="176.50" cy="203.00" r="1.2" fill="#1f3d80"/>
<line x1="185.18" y1="204.60" x2="185.18" y2="209.20" stroke="#1f3d80" stroke-width="0.9"/>
<line x1="184.18" y1="204.60" x2="186.18" y2="204.60" stroke="#1f3d80" stroke-width="0.9"/>
<line x1="184.18" y1="209.20" x2="186.18" y2="209.20" stroke="#1f3d80" stroke-width="0.9"/>
<circle cx="185.18" cy="206.70" r="1.2" fill="#1f3d80"/>
<line x1="193.86" y1="202.50" x2="193.86" y2="205.50" stroke="#1f3d80" stroke-width="0.9"/>
<line x1="192.86" y1="202.50" x2="194.86" y2="202.50" stroke="#1f3d80" stroke-width="0.9"/>
<line x1="192.86" y1="205.50" x2="194.86" y2="205.50" stroke="#1f3d80" stroke-width="0.9"/>
<circle cx="193.86" cy="204.00" r="1.2" fill="#1f3d80"/>
<line x1="202.54" y1="202.50" x2="202.54" y2="205.50" stroke="#1f3d80" stroke-width="0.9"/>
<line x1="201.54" y1="202.50" x2="203.54" y2="202.50" stroke="#1f3d80" stroke-width="0.9"/>
<line x1="201.54" y1="205.50" x2="203.54" y2="205.50" stroke="#1f3d80" stroke-width="0.9"/>
<circle cx="202.54" cy="204.00" r="1.2" fill="#1f3d80"/>
<line x1="211.22" y1="202.00" x2="211.22" y2="204.50" stroke="#1f3d80" stroke-width="0.9"/>
<line x1="210.22" y1="202.00" x2="212.22" y2="202.00" stroke="#1f3d80" stroke-width="0.9"/>
<line x1="210.22" y1="204.50" x2="212.22" y2="204.50" stroke="#1f3d80" stroke-width="0.9"/>
<circle cx="211.22" cy="203.20" r="1.2" fill="#1f3d80"/>
<rect x="56.68" y="227.17" width="1.85" height="1.85" fill="#111"/>
<line x1="149.4" y1="197.8" x2="210.0" y2="197.8" stroke="#666" stroke-width="1.5"/>
<rect x="174.60" y="192.77" width="1.85" height="1.85" fill="#111"/>
<rect x="177.45" y="192.77" width="1.85" height="1.85" fill="#111"/>
<rect x="180.30" y="192.77" width="1.85" height="1.85" fill="#111"/>
<rect x="183.15" y="192.77" width="1.85" height="1.85" fill="#111"/>
<line x1="46.05" y1="344.30" x2="46.05" y2="426.4" stroke="#484848" stroke-width="1.9"/>
<line x1="42.5" y1="426.40" x2="45.7" y2="426.40" stroke="#1a1a1a" stroke-width="1"/>
<text x="39.60" y="429.15" font-size="8.6" text-anchor="end" font-weight="normal" fill="#1a1a1a" >0</text>
<line x1="42.5" y1="410.60" x2="45.7" y2="410.60" stroke="#1a1a1a" stroke-width="1"/>
<text x="39.60" y="413.35" font-size="8.6" text-anchor="end" font-weight="normal" fill="#1a1a1a" >2</text>
<line x1="42.5" y1="394.70" x2="45.7" y2="394.70" stroke="#1a1a1a" stroke-width="1"/>
<text x="39.60" y="397.45" font-size="8.6" text-anchor="end" font-weight="normal" fill="#1a1a1a" >4</text>
<line x1="42.5" y1="378.90" x2="45.7" y2="378.90" stroke="#1a1a1a" stroke-width="1"/>
<text x="39.60" y="381.65" font-size="8.6" text-anchor="end" font-weight="normal" fill="#1a1a1a" >6</text>
<line x1="42.5" y1="363.10" x2="45.7" y2="363.10" stroke="#1a1a1a" stroke-width="1"/>
<text x="39.60" y="365.85" font-size="8.6" text-anchor="end" font-weight="normal" fill="#1a1a1a" >8</text>
<line x1="42.5" y1="347.20" x2="45.7" y2="347.20" stroke="#1a1a1a" stroke-width="1"/>
<text x="39.60" y="349.95" font-size="8.6" text-anchor="end" font-weight="normal" fill="#1a1a1a" >10</text>
<line x1="45.1" y1="426.4" x2="127.74" y2="426.4" stroke="#1a1a1a" stroke-width="1.3"/>
<line x1="127.74" y1="423.79999999999995" x2="127.74" y2="429.0" stroke="#1a1a1a" stroke-width="1"/>
<line x1="45.70" y1="426.4" x2="45.70" y2="429.4" stroke="#1a1a1a" stroke-width="0.9"/>
<line x1="51.56" y1="426.4" x2="51.56" y2="428.0" stroke="#1a1a1a" stroke-width="0.9"/>
<line x1="57.42" y1="426.4" x2="57.42" y2="428.0" stroke="#1a1a1a" stroke-width="0.9"/>
<line x1="63.28" y1="426.4" x2="63.28" y2="428.0" stroke="#1a1a1a" stroke-width="0.9"/>
<line x1="69.14" y1="426.4" x2="69.14" y2="428.0" stroke="#1a1a1a" stroke-width="0.9"/>
<line x1="75.00" y1="426.4" x2="75.00" y2="429.4" stroke="#1a1a1a" stroke-width="0.9"/>
<line x1="80.86" y1="426.4" x2="80.86" y2="428.0" stroke="#1a1a1a" stroke-width="0.9"/>
<line x1="86.72" y1="426.4" x2="86.72" y2="428.0" stroke="#1a1a1a" stroke-width="0.9"/>
<line x1="92.58" y1="426.4" x2="92.58" y2="428.0" stroke="#1a1a1a" stroke-width="0.9"/>
<line x1="98.44" y1="426.4" x2="98.44" y2="428.0" stroke="#1a1a1a" stroke-width="0.9"/>
<line x1="104.30" y1="426.4" x2="104.30" y2="429.4" stroke="#1a1a1a" stroke-width="0.9"/>
<line x1="110.16" y1="426.4" x2="110.16" y2="428.0" stroke="#1a1a1a" stroke-width="0.9"/>
<line x1="116.02" y1="426.4" x2="116.02" y2="428.0" stroke="#1a1a1a" stroke-width="0.9"/>
<line x1="121.88" y1="426.4" x2="121.88" y2="428.0" stroke="#1a1a1a" stroke-width="0.9"/>
<line x1="127.74" y1="426.4" x2="127.74" y2="428.0" stroke="#1a1a1a" stroke-width="0.9"/>
<text x="45.70" y="440.00" font-size="8.6" text-anchor="middle" font-weight="normal" fill="#1a1a1a" >0</text>
<text x="75.00" y="440.00" font-size="8.6" text-anchor="middle" font-weight="normal" fill="#1a1a1a" >5</text>
<text x="104.30" y="440.00" font-size="8.6" text-anchor="middle" font-weight="normal" fill="#1a1a1a" >10</text>
<line x1="133.10" y1="426.4" x2="218.66" y2="426.4" stroke="#1a1a1a" stroke-width="1.3"/>
<line x1="133.10" y1="423.79999999999995" x2="133.10" y2="429.0" stroke="#1a1a1a" stroke-width="1"/>
<line x1="134.34" y1="426.4" x2="134.34" y2="427.9" stroke="#1a1a1a" stroke-width="0.8"/>
<line x1="136.82" y1="426.4" x2="136.82" y2="427.9" stroke="#1a1a1a" stroke-width="0.8"/>
<line x1="139.30" y1="426.4" x2="139.30" y2="427.9" stroke="#1a1a1a" stroke-width="0.8"/>
<line x1="141.78" y1="426.4" x2="141.78" y2="427.9" stroke="#1a1a1a" stroke-width="0.8"/>
<line x1="144.26" y1="426.4" x2="144.26" y2="427.9" stroke="#1a1a1a" stroke-width="0.8"/>
<line x1="146.74" y1="426.4" x2="146.74" y2="427.9" stroke="#1a1a1a" stroke-width="0.8"/>
<line x1="149.22" y1="426.4" x2="149.22" y2="427.9" stroke="#1a1a1a" stroke-width="0.8"/>
<line x1="151.70" y1="426.4" x2="151.70" y2="427.9" stroke="#1a1a1a" stroke-width="0.8"/>
<line x1="154.18" y1="426.4" x2="154.18" y2="427.9" stroke="#1a1a1a" stroke-width="0.8"/>
<line x1="156.66" y1="426.4" x2="156.66" y2="429.4" stroke="#1a1a1a" stroke-width="0.8"/>
<line x1="159.14" y1="426.4" x2="159.14" y2="427.9" stroke="#1a1a1a" stroke-width="0.8"/>
<line x1="161.62" y1="426.4" x2="161.62" y2="427.9" stroke="#1a1a1a" stroke-width="0.8"/>
<line x1="164.10" y1="426.4" x2="164.10" y2="427.9" stroke="#1a1a1a" stroke-width="0.8"/>
<line x1="166.58" y1="426.4" x2="166.58" y2="427.9" stroke="#1a1a1a" stroke-width="0.8"/>
<line x1="169.06" y1="426.4" x2="169.06" y2="427.9" stroke="#1a1a1a" stroke-width="0.8"/>
<line x1="171.54" y1="426.4" x2="171.54" y2="427.9" stroke="#1a1a1a" stroke-width="0.8"/>
<line x1="174.02" y1="426.4" x2="174.02" y2="427.9" stroke="#1a1a1a" stroke-width="0.8"/>
<line x1="176.50" y1="426.4" x2="176.50" y2="427.9" stroke="#1a1a1a" stroke-width="0.8"/>
<line x1="178.98" y1="426.4" x2="178.98" y2="427.9" stroke="#1a1a1a" stroke-width="0.8"/>
<line x1="181.46" y1="426.4" x2="181.46" y2="429.4" stroke="#1a1a1a" stroke-width="0.8"/>
<line x1="183.94" y1="426.4" x2="183.94" y2="427.9" stroke="#1a1a1a" stroke-width="0.8"/>
<line x1="186.42" y1="426.4" x2="186.42" y2="427.9" stroke="#1a1a1a" stroke-width="0.8"/>
<line x1="188.90" y1="426.4" x2="188.90" y2="427.9" stroke="#1a1a1a" stroke-width="0.8"/>
<line x1="191.38" y1="426.4" x2="191.38" y2="427.9" stroke="#1a1a1a" stroke-width="0.8"/>
<line x1="193.86" y1="426.4" x2="193.86" y2="427.9" stroke="#1a1a1a" stroke-width="0.8"/>
<line x1="196.34" y1="426.4" x2="196.34" y2="427.9" stroke="#1a1a1a" stroke-width="0.8"/>
<line x1="198.82" y1="426.4" x2="198.82" y2="427.9" stroke="#1a1a1a" stroke-width="0.8"/>
<line x1="201.30" y1="426.4" x2="201.30" y2="427.9" stroke="#1a1a1a" stroke-width="0.8"/>
<line x1="203.78" y1="426.4" x2="203.78" y2="427.9" stroke="#1a1a1a" stroke-width="0.8"/>
<line x1="206.26" y1="426.4" x2="206.26" y2="429.4" stroke="#1a1a1a" stroke-width="0.8"/>
<line x1="208.74" y1="426.4" x2="208.74" y2="427.9" stroke="#1a1a1a" stroke-width="0.8"/>
<line x1="211.22" y1="426.4" x2="211.22" y2="427.9" stroke="#1a1a1a" stroke-width="0.8"/>
<line x1="213.70" y1="426.4" x2="213.70" y2="427.9" stroke="#1a1a1a" stroke-width="0.8"/>
<line x1="216.18" y1="426.4" x2="216.18" y2="427.9" stroke="#1a1a1a" stroke-width="0.8"/>
<line x1="218.66" y1="426.4" x2="218.66" y2="427.9" stroke="#1a1a1a" stroke-width="0.8"/>
<text x="156.66" y="440.00" font-size="8.6" text-anchor="middle" font-weight="normal" fill="#1a1a1a" >40</text>
<text x="181.46" y="440.00" font-size="8.6" text-anchor="middle" font-weight="normal" fill="#1a1a1a" >60</text>
<text x="206.26" y="440.00" font-size="8.6" text-anchor="middle" font-weight="normal" fill="#1a1a1a" >80</text>
<g transform="translate(132.68,453.40) rotate(0) scale(0.62,1)"><text x="0" y="0" font-size="9.8" text-anchor="middle" fill="#111" stroke="#111" stroke-width="0.2" textLength="75.32" lengthAdjust="spacing">Days after birth</text></g>
<polyline points="51.56,401.90 57.42,405.10 63.28,401.30 69.14,398.90 75.00,398.90 80.86,394.30 92.58,388.20 98.44,392.20 104.30,392.20 110.16,386.50 116.02,384.30 121.88,380.50 127.74,388.30" fill="none" stroke="#1f3d80" stroke-width="0.95" stroke-linejoin="round"/>
<polyline points="133.10,371.40 141.78,371.50 150.46,360.10 159.14,360.70 167.82,352.80 176.50,353.50 185.18,355.50 193.86,354.40 202.54,353.70 211.22,353.10" fill="none" stroke="#1f3d80" stroke-width="0.95" stroke-linejoin="round"/>
<line x1="51.56" y1="399.20" x2="51.56" y2="404.00" stroke="#1f3d80" stroke-width="0.9"/>
<line x1="50.56" y1="399.20" x2="52.56" y2="399.20" stroke="#1f3d80" stroke-width="0.9"/>
<line x1="50.56" y1="404.00" x2="52.56" y2="404.00" stroke="#1f3d80" stroke-width="0.9"/>
<circle cx="51.56" cy="401.90" r="1.2" fill="#1f3d80"/>
<line x1="57.42" y1="401.30" x2="57.42" y2="410.50" stroke="#1f3d80" stroke-width="0.9"/>
<line x1="56.42" y1="401.30" x2="58.42" y2="401.30" stroke="#1f3d80" stroke-width="0.9"/>
<line x1="56.42" y1="410.50" x2="58.42" y2="410.50" stroke="#1f3d80" stroke-width="0.9"/>
<circle cx="57.42" cy="405.10" r="1.2" fill="#1f3d80"/>
<circle cx="63.28" cy="401.30" r="1.2" fill="#1f3d80"/>
<line x1="69.14" y1="397.50" x2="69.14" y2="400.50" stroke="#1f3d80" stroke-width="0.9"/>
<line x1="68.14" y1="397.50" x2="70.14" y2="397.50" stroke="#1f3d80" stroke-width="0.9"/>
<line x1="68.14" y1="400.50" x2="70.14" y2="400.50" stroke="#1f3d80" stroke-width="0.9"/>
<circle cx="69.14" cy="398.90" r="1.2" fill="#1f3d80"/>
<line x1="75.00" y1="397.00" x2="75.00" y2="400.80" stroke="#1f3d80" stroke-width="0.9"/>
<line x1="74.00" y1="397.00" x2="76.00" y2="397.00" stroke="#1f3d80" stroke-width="0.9"/>
<line x1="74.00" y1="400.80" x2="76.00" y2="400.80" stroke="#1f3d80" stroke-width="0.9"/>
<circle cx="75.00" cy="398.90" r="1.2" fill="#1f3d80"/>
<circle cx="80.86" cy="394.30" r="1.2" fill="#1f3d80"/>
<circle cx="92.58" cy="388.20" r="1.2" fill="#1f3d80"/>
<circle cx="98.44" cy="392.20" r="1.2" fill="#1f3d80"/>
<line x1="104.30" y1="390.80" x2="104.30" y2="395.10" stroke="#1f3d80" stroke-width="0.9"/>
<line x1="103.30" y1="390.80" x2="105.30" y2="390.80" stroke="#1f3d80" stroke-width="0.9"/>
<line x1="103.30" y1="395.10" x2="105.30" y2="395.10" stroke="#1f3d80" stroke-width="0.9"/>
<circle cx="104.30" cy="392.20" r="1.2" fill="#1f3d80"/>
<circle cx="110.16" cy="386.50" r="1.2" fill="#1f3d80"/>
<line x1="116.02" y1="382.70" x2="116.02" y2="385.70" stroke="#1f3d80" stroke-width="0.9"/>
<line x1="115.02" y1="382.70" x2="117.02" y2="382.70" stroke="#1f3d80" stroke-width="0.9"/>
<line x1="115.02" y1="385.70" x2="117.02" y2="385.70" stroke="#1f3d80" stroke-width="0.9"/>
<circle cx="116.02" cy="384.30" r="1.2" fill="#1f3d80"/>
<line x1="121.88" y1="378.90" x2="121.88" y2="382.10" stroke="#1f3d80" stroke-width="0.9"/>
<line x1="120.88" y1="378.90" x2="122.88" y2="378.90" stroke="#1f3d80" stroke-width="0.9"/>
<line x1="120.88" y1="382.10" x2="122.88" y2="382.10" stroke="#1f3d80" stroke-width="0.9"/>
<circle cx="121.88" cy="380.50" r="1.2" fill="#1f3d80"/>
<line x1="127.74" y1="385.40" x2="127.74" y2="391.90" stroke="#1f3d80" stroke-width="0.9"/>
<line x1="126.74" y1="385.40" x2="128.74" y2="385.40" stroke="#1f3d80" stroke-width="0.9"/>
<line x1="126.74" y1="391.90" x2="128.74" y2="391.90" stroke="#1f3d80" stroke-width="0.9"/>
<circle cx="127.74" cy="388.30" r="1.2" fill="#1f3d80"/>
<line x1="133.10" y1="369.70" x2="133.10" y2="373.00" stroke="#1f3d80" stroke-width="0.9"/>
<line x1="132.10" y1="369.70" x2="134.10" y2="369.70" stroke="#1f3d80" stroke-width="0.9"/>
<line x1="132.10" y1="373.00" x2="134.10" y2="373.00" stroke="#1f3d80" stroke-width="0.9"/>
<circle cx="133.10" cy="371.40" r="1.2" fill="#1f3d80"/>
<line x1="141.78" y1="368.50" x2="141.78" y2="374.40" stroke="#1f3d80" stroke-width="0.9"/>
<line x1="140.78" y1="368.50" x2="142.78" y2="368.50" stroke="#1f3d80" stroke-width="0.9"/>
<line x1="140.78" y1="374.40" x2="142.78" y2="374.40" stroke="#1f3d80" stroke-width="0.9"/>
<circle cx="141.78" cy="371.50" r="1.2" fill="#1f3d80"/>
<circle cx="150.46" cy="360.10" r="1.2" fill="#1f3d80"/>
<line x1="159.14" y1="358.20" x2="159.14" y2="363.30" stroke="#1f3d80" stroke-width="0.9"/>
<line x1="158.14" y1="358.20" x2="160.14" y2="358.20" stroke="#1f3d80" stroke-width="0.9"/>
<line x1="158.14" y1="363.30" x2="160.14" y2="363.30" stroke="#1f3d80" stroke-width="0.9"/>
<circle cx="159.14" cy="360.70" r="1.2" fill="#1f3d80"/>
<circle cx="167.82" cy="352.80" r="1.2" fill="#1f3d80"/>
<line x1="176.50" y1="352.20" x2="176.50" y2="354.80" stroke="#1f3d80" stroke-width="0.9"/>
<line x1="175.50" y1="352.20" x2="177.50" y2="352.20" stroke="#1f3d80" stroke-width="0.9"/>
<line x1="175.50" y1="354.80" x2="177.50" y2="354.80" stroke="#1f3d80" stroke-width="0.9"/>
<circle cx="176.50" cy="353.50" r="1.2" fill="#1f3d80"/>
<line x1="185.18" y1="353.50" x2="185.18" y2="357.50" stroke="#1f3d80" stroke-width="0.9"/>
<line x1="184.18" y1="353.50" x2="186.18" y2="353.50" stroke="#1f3d80" stroke-width="0.9"/>
<line x1="184.18" y1="357.50" x2="186.18" y2="357.50" stroke="#1f3d80" stroke-width="0.9"/>
<circle cx="185.18" cy="355.50" r="1.2" fill="#1f3d80"/>
<line x1="193.86" y1="353.00" x2="193.86" y2="355.80" stroke="#1f3d80" stroke-width="0.9"/>
<line x1="192.86" y1="353.00" x2="194.86" y2="353.00" stroke="#1f3d80" stroke-width="0.9"/>
<line x1="192.86" y1="355.80" x2="194.86" y2="355.80" stroke="#1f3d80" stroke-width="0.9"/>
<circle cx="193.86" cy="354.40" r="1.2" fill="#1f3d80"/>
<line x1="202.54" y1="352.30" x2="202.54" y2="355.20" stroke="#1f3d80" stroke-width="0.9"/>
<line x1="201.54" y1="352.30" x2="203.54" y2="352.30" stroke="#1f3d80" stroke-width="0.9"/>
<line x1="201.54" y1="355.20" x2="203.54" y2="355.20" stroke="#1f3d80" stroke-width="0.9"/>
<circle cx="202.54" cy="353.70" r="1.2" fill="#1f3d80"/>
<circle cx="211.22" cy="353.10" r="1.2" fill="#1f3d80"/>
<rect x="90.25" y="382.38" width="1.85" height="1.85" fill="#111"/>
<rect x="93.10" y="382.38" width="1.85" height="1.85" fill="#111"/>
<rect x="96.15" y="385.57" width="1.85" height="1.85" fill="#111"/>
<rect x="99.00" y="385.57" width="1.85" height="1.85" fill="#111"/>
<line x1="110.2" y1="347.4" x2="210.6" y2="347.4" stroke="#222" stroke-width="1.1"/>
<rect x="155.20" y="342.18" width="1.85" height="1.85" fill="#111"/>
<rect x="158.05" y="342.18" width="1.85" height="1.85" fill="#111"/>
<rect x="160.90" y="342.18" width="1.85" height="1.85" fill="#111"/>
<rect x="163.75" y="342.18" width="1.85" height="1.85" fill="#111"/>
<g transform="translate(23.90,385.40) rotate(-90) scale(0.62,1)"><text x="0" y="0" font-size="9.2" text-anchor="middle" fill="#111" stroke="#111" stroke-width="0.15" textLength="120.16" lengthAdjust="spacing">Red blood cells (10<tspan dy="-3.6" font-size="6.8">6</tspan><tspan dy="3.6">/µL)</tspan></text></g>
<line x1="278.05" y1="34.70" x2="278.05" y2="116.9" stroke="#484848" stroke-width="1.9"/>
<line x1="274.5" y1="116.90" x2="277.7" y2="116.90" stroke="#1a1a1a" stroke-width="1"/>
<text x="271.60" y="119.65" font-size="8.6" text-anchor="end" font-weight="normal" fill="#1a1a1a" >0</text>
<line x1="274.5" y1="101.20" x2="277.7" y2="101.20" stroke="#1a1a1a" stroke-width="1"/>
<text x="271.60" y="103.95" font-size="8.6" text-anchor="end" font-weight="normal" fill="#1a1a1a" >20</text>
<line x1="274.5" y1="85.40" x2="277.7" y2="85.40" stroke="#1a1a1a" stroke-width="1"/>
<text x="271.60" y="88.15" font-size="8.6" text-anchor="end" font-weight="normal" fill="#1a1a1a" >40</text>
<line x1="274.5" y1="69.60" x2="277.7" y2="69.60" stroke="#1a1a1a" stroke-width="1"/>
<text x="271.60" y="72.35" font-size="8.6" text-anchor="end" font-weight="normal" fill="#1a1a1a" >60</text>
<line x1="274.5" y1="53.40" x2="277.7" y2="53.40" stroke="#1a1a1a" stroke-width="1"/>
<text x="271.60" y="56.15" font-size="8.6" text-anchor="end" font-weight="normal" fill="#1a1a1a" >80</text>
<line x1="274.5" y1="37.60" x2="277.7" y2="37.60" stroke="#1a1a1a" stroke-width="1"/>
<text x="271.60" y="40.35" font-size="8.6" text-anchor="end" font-weight="normal" fill="#1a1a1a" >100</text>
<line x1="277.09999999999997" y1="116.9" x2="359.74" y2="116.9" stroke="#1a1a1a" stroke-width="1.3"/>
<line x1="359.74" y1="114.30000000000001" x2="359.74" y2="119.5" stroke="#1a1a1a" stroke-width="1"/>
<line x1="277.70" y1="116.9" x2="277.70" y2="119.9" stroke="#1a1a1a" stroke-width="0.9"/>
<line x1="283.56" y1="116.9" x2="283.56" y2="118.5" stroke="#1a1a1a" stroke-width="0.9"/>
<line x1="289.42" y1="116.9" x2="289.42" y2="118.5" stroke="#1a1a1a" stroke-width="0.9"/>
<line x1="295.28" y1="116.9" x2="295.28" y2="118.5" stroke="#1a1a1a" stroke-width="0.9"/>
<line x1="301.14" y1="116.9" x2="301.14" y2="118.5" stroke="#1a1a1a" stroke-width="0.9"/>
<line x1="307.00" y1="116.9" x2="307.00" y2="119.9" stroke="#1a1a1a" stroke-width="0.9"/>
<line x1="312.86" y1="116.9" x2="312.86" y2="118.5" stroke="#1a1a1a" stroke-width="0.9"/>
<line x1="318.72" y1="116.9" x2="318.72" y2="118.5" stroke="#1a1a1a" stroke-width="0.9"/>
<line x1="324.58" y1="116.9" x2="324.58" y2="118.5" stroke="#1a1a1a" stroke-width="0.9"/>
<line x1="330.44" y1="116.9" x2="330.44" y2="118.5" stroke="#1a1a1a" stroke-width="0.9"/>
<line x1="336.30" y1="116.9" x2="336.30" y2="119.9" stroke="#1a1a1a" stroke-width="0.9"/>
<line x1="342.16" y1="116.9" x2="342.16" y2="118.5" stroke="#1a1a1a" stroke-width="0.9"/>
<line x1="348.02" y1="116.9" x2="348.02" y2="118.5" stroke="#1a1a1a" stroke-width="0.9"/>
<line x1="353.88" y1="116.9" x2="353.88" y2="118.5" stroke="#1a1a1a" stroke-width="0.9"/>
<line x1="359.74" y1="116.9" x2="359.74" y2="118.5" stroke="#1a1a1a" stroke-width="0.9"/>
<text x="277.70" y="130.50" font-size="8.6" text-anchor="middle" font-weight="normal" fill="#1a1a1a" >0</text>
<text x="307.00" y="130.50" font-size="8.6" text-anchor="middle" font-weight="normal" fill="#1a1a1a" >5</text>
<text x="336.30" y="130.50" font-size="8.6" text-anchor="middle" font-weight="normal" fill="#1a1a1a" >10</text>
<line x1="365.10" y1="116.9" x2="450.66" y2="116.9" stroke="#1a1a1a" stroke-width="1.3"/>
<line x1="365.10" y1="114.30000000000001" x2="365.10" y2="119.5" stroke="#1a1a1a" stroke-width="1"/>
<line x1="366.34" y1="116.9" x2="366.34" y2="118.4" stroke="#1a1a1a" stroke-width="0.8"/>
<line x1="368.82" y1="116.9" x2="368.82" y2="118.4" stroke="#1a1a1a" stroke-width="0.8"/>
<line x1="371.30" y1="116.9" x2="371.30" y2="118.4" stroke="#1a1a1a" stroke-width="0.8"/>
<line x1="373.78" y1="116.9" x2="373.78" y2="118.4" stroke="#1a1a1a" stroke-width="0.8"/>
<line x1="376.26" y1="116.9" x2="376.26" y2="118.4" stroke="#1a1a1a" stroke-width="0.8"/>
<line x1="378.74" y1="116.9" x2="378.74" y2="118.4" stroke="#1a1a1a" stroke-width="0.8"/>
<line x1="381.22" y1="116.9" x2="381.22" y2="118.4" stroke="#1a1a1a" stroke-width="0.8"/>
<line x1="383.70" y1="116.9" x2="383.70" y2="118.4" stroke="#1a1a1a" stroke-width="0.8"/>
<line x1="386.18" y1="116.9" x2="386.18" y2="118.4" stroke="#1a1a1a" stroke-width="0.8"/>
<line x1="388.66" y1="116.9" x2="388.66" y2="119.9" stroke="#1a1a1a" stroke-width="0.8"/>
<line x1="391.14" y1="116.9" x2="391.14" y2="118.4" stroke="#1a1a1a" stroke-width="0.8"/>
<line x1="393.62" y1="116.9" x2="393.62" y2="118.4" stroke="#1a1a1a" stroke-width="0.8"/>
<line x1="396.10" y1="116.9" x2="396.10" y2="118.4" stroke="#1a1a1a" stroke-width="0.8"/>
<line x1="398.58" y1="116.9" x2="398.58" y2="118.4" stroke="#1a1a1a" stroke-width="0.8"/>
<line x1="401.06" y1="116.9" x2="401.06" y2="118.4" stroke="#1a1a1a" stroke-width="0.8"/>
<line x1="403.54" y1="116.9" x2="403.54" y2="118.4" stroke="#1a1a1a" stroke-width="0.8"/>
<line x1="406.02" y1="116.9" x2="406.02" y2="118.4" stroke="#1a1a1a" stroke-width="0.8"/>
<line x1="408.50" y1="116.9" x2="408.50" y2="118.4" stroke="#1a1a1a" stroke-width="0.8"/>
<line x1="410.98" y1="116.9" x2="410.98" y2="118.4" stroke="#1a1a1a" stroke-width="0.8"/>
<line x1="413.46" y1="116.9" x2="413.46" y2="119.9" stroke="#1a1a1a" stroke-width="0.8"/>
<line x1="415.94" y1="116.9" x2="415.94" y2="118.4" stroke="#1a1a1a" stroke-width="0.8"/>
<line x1="418.42" y1="116.9" x2="418.42" y2="118.4" stroke="#1a1a1a" stroke-width="0.8"/>
<line x1="420.90" y1="116.9" x2="420.90" y2="118.4" stroke="#1a1a1a" stroke-width="0.8"/>
<line x1="423.38" y1="116.9" x2="423.38" y2="118.4" stroke="#1a1a1a" stroke-width="0.8"/>
<line x1="425.86" y1="116.9" x2="425.86" y2="118.4" stroke="#1a1a1a" stroke-width="0.8"/>
<line x1="428.34" y1="116.9" x2="428.34" y2="118.4" stroke="#1a1a1a" stroke-width="0.8"/>
<line x1="430.82" y1="116.9" x2="430.82" y2="118.4" stroke="#1a1a1a" stroke-width="0.8"/>
<line x1="433.30" y1="116.9" x2="433.30" y2="118.4" stroke="#1a1a1a" stroke-width="0.8"/>
<line x1="435.78" y1="116.9" x2="435.78" y2="118.4" stroke="#1a1a1a" stroke-width="0.8"/>
<line x1="438.26" y1="116.9" x2="438.26" y2="119.9" stroke="#1a1a1a" stroke-width="0.8"/>
<line x1="440.74" y1="116.9" x2="440.74" y2="118.4" stroke="#1a1a1a" stroke-width="0.8"/>
<line x1="443.22" y1="116.9" x2="443.22" y2="118.4" stroke="#1a1a1a" stroke-width="0.8"/>
<line x1="445.70" y1="116.9" x2="445.70" y2="118.4" stroke="#1a1a1a" stroke-width="0.8"/>
<line x1="448.18" y1="116.9" x2="448.18" y2="118.4" stroke="#1a1a1a" stroke-width="0.8"/>
<line x1="450.66" y1="116.9" x2="450.66" y2="118.4" stroke="#1a1a1a" stroke-width="0.8"/>
<text x="388.66" y="130.50" font-size="8.6" text-anchor="middle" font-weight="normal" fill="#1a1a1a" >40</text>
<text x="413.46" y="130.50" font-size="8.6" text-anchor="middle" font-weight="normal" fill="#1a1a1a" >60</text>
<text x="438.26" y="130.50" font-size="8.6" text-anchor="middle" font-weight="normal" fill="#1a1a1a" >80</text>
<g transform="translate(364.68,143.70) rotate(0) scale(0.62,1)"><text x="0" y="0" font-size="9.8" text-anchor="middle" fill="#111" stroke="#111" stroke-width="0.2" textLength="75.32" lengthAdjust="spacing">Days after birth</text></g>
<g transform="translate(250.90,75.50) rotate(-90) scale(0.62,1)"><text x="0" y="0" font-size="9.2" text-anchor="middle" fill="#111" stroke="#111" stroke-width="0.22" textLength="43.87" lengthAdjust="spacing">MCV (fL)</text></g>
<line x1="450.8" y1="34.7" x2="450.8" y2="116.9" stroke="#222" stroke-width="1.35"/>
<line x1="450.8" y1="116.9" x2="454.0" y2="116.9" stroke="#1a1a1a" stroke-width="1"/>
<text x="456.40" y="119.65" font-size="8.6" text-anchor="start" font-weight="normal" fill="#1a1a1a" >0</text>
<line x1="450.8" y1="101.2" x2="454.0" y2="101.2" stroke="#1a1a1a" stroke-width="1"/>
<text x="456.40" y="103.95" font-size="8.6" text-anchor="start" font-weight="normal" fill="#1a1a1a" >10</text>
<line x1="450.8" y1="85.4" x2="454.0" y2="85.4" stroke="#1a1a1a" stroke-width="1"/>
<text x="456.40" y="88.15" font-size="8.6" text-anchor="start" font-weight="normal" fill="#1a1a1a" >20</text>
<line x1="450.8" y1="69.6" x2="454.0" y2="69.6" stroke="#1a1a1a" stroke-width="1"/>
<text x="456.40" y="72.35" font-size="8.6" text-anchor="start" font-weight="normal" fill="#1a1a1a" >30</text>
<line x1="450.8" y1="53.4" x2="454.0" y2="53.4" stroke="#1a1a1a" stroke-width="1"/>
<text x="456.40" y="56.15" font-size="8.6" text-anchor="start" font-weight="normal" fill="#1a1a1a" >40</text>
<line x1="450.8" y1="37.6" x2="454.0" y2="37.6" stroke="#1a1a1a" stroke-width="1"/>
<text x="456.40" y="40.35" font-size="8.6" text-anchor="start" font-weight="normal" fill="#1a1a1a" >50</text>
<g transform="translate(472.60,75.50) rotate(90) scale(0.62,1)"><text x="0" y="0" font-size="9.2" text-anchor="middle" fill="#111" stroke="#111" stroke-width="0.22" textLength="46.61" lengthAdjust="spacing">RDW (%)</text></g>
<polyline points="283.56,47.80 289.42,53.10 295.28,49.60 301.14,56.80 307.00,54.70 312.86,64.00 324.58,70.20 330.44,68.40 336.30,66.90 342.16,70.50 348.02,72.10 353.88,76.60 359.74,78.10" fill="none" stroke="#1f3d80" stroke-width="0.95" stroke-linejoin="round"/>
<polyline points="365.10,80.50 373.78,78.70 382.46,79.00 391.14,80.50 399.82,80.50 408.50,79.50 417.18,80.60 425.86,79.80 434.54,80.20 443.22,79.80" fill="none" stroke="#1f3d80" stroke-width="0.95" stroke-linejoin="round"/>
<circle cx="283.56" cy="47.80" r="1.2" fill="#1f3d80"/>
<line x1="289.42" y1="51.60" x2="289.42" y2="55.20" stroke="#1f3d80" stroke-width="0.9"/>
<line x1="288.42" y1="51.60" x2="290.42" y2="51.60" stroke="#1f3d80" stroke-width="0.9"/>
<line x1="288.42" y1="55.20" x2="290.42" y2="55.20" stroke="#1f3d80" stroke-width="0.9"/>
<circle cx="289.42" cy="53.10" r="1.2" fill="#1f3d80"/>
<circle cx="295.28" cy="49.60" r="1.2" fill="#1f3d80"/>
<line x1="301.14" y1="55.20" x2="301.14" y2="58.50" stroke="#1f3d80" stroke-width="0.9"/>
<line x1="300.14" y1="55.20" x2="302.14" y2="55.20" stroke="#1f3d80" stroke-width="0.9"/>
<line x1="300.14" y1="58.50" x2="302.14" y2="58.50" stroke="#1f3d80" stroke-width="0.9"/>
<circle cx="301.14" cy="56.80" r="1.2" fill="#1f3d80"/>
<line x1="307.00" y1="53.50" x2="307.00" y2="56.00" stroke="#1f3d80" stroke-width="0.9"/>
<line x1="306.00" y1="53.50" x2="308.00" y2="53.50" stroke="#1f3d80" stroke-width="0.9"/>
<line x1="306.00" y1="56.00" x2="308.00" y2="56.00" stroke="#1f3d80" stroke-width="0.9"/>
<circle cx="307.00" cy="54.70" r="1.2" fill="#1f3d80"/>
<line x1="312.86" y1="61.80" x2="312.86" y2="65.80" stroke="#1f3d80" stroke-width="0.9"/>
<line x1="311.86" y1="61.80" x2="313.86" y2="61.80" stroke="#1f3d80" stroke-width="0.9"/>
<line x1="311.86" y1="65.80" x2="313.86" y2="65.80" stroke="#1f3d80" stroke-width="0.9"/>
<circle cx="312.86" cy="64.00" r="1.2" fill="#1f3d80"/>
<circle cx="324.58" cy="70.20" r="1.2" fill="#1f3d80"/>
<line x1="330.44" y1="67.00" x2="330.44" y2="69.80" stroke="#1f3d80" stroke-width="0.9"/>
<line x1="329.44" y1="67.00" x2="331.44" y2="67.00" stroke="#1f3d80" stroke-width="0.9"/>
<line x1="329.44" y1="69.80" x2="331.44" y2="69.80" stroke="#1f3d80" stroke-width="0.9"/>
<circle cx="330.44" cy="68.40" r="1.2" fill="#1f3d80"/>
<line x1="336.30" y1="65.00" x2="336.30" y2="68.50" stroke="#1f3d80" stroke-width="0.9"/>
<line x1="335.30" y1="65.00" x2="337.30" y2="65.00" stroke="#1f3d80" stroke-width="0.9"/>
<line x1="335.30" y1="68.50" x2="337.30" y2="68.50" stroke="#1f3d80" stroke-width="0.9"/>
<circle cx="336.30" cy="66.90" r="1.2" fill="#1f3d80"/>
<circle cx="342.16" cy="70.50" r="1.2" fill="#1f3d80"/>
<circle cx="348.02" cy="72.10" r="1.2" fill="#1f3d80"/>
<circle cx="353.88" cy="76.60" r="1.2" fill="#1f3d80"/>
<circle cx="359.74" cy="78.10" r="1.2" fill="#1f3d80"/>
<circle cx="365.10" cy="80.50" r="1.2" fill="#1f3d80"/>
<circle cx="373.78" cy="78.70" r="1.2" fill="#1f3d80"/>
<circle cx="382.46" cy="79.00" r="1.2" fill="#1f3d80"/>
<circle cx="391.14" cy="80.50" r="1.2" fill="#1f3d80"/>
<circle cx="399.82" cy="80.50" r="1.2" fill="#1f3d80"/>
<circle cx="408.50" cy="79.50" r="1.2" fill="#1f3d80"/>
<circle cx="417.18" cy="80.60" r="1.2" fill="#1f3d80"/>
<circle cx="425.86" cy="79.80" r="1.2" fill="#1f3d80"/>
<circle cx="434.54" cy="80.20" r="1.2" fill="#1f3d80"/>
<circle cx="443.22" cy="79.80" r="1.2" fill="#1f3d80"/>
<polyline points="283.56,85.60 289.42,85.60 295.28,84.10 301.14,84.10 307.00,83.00 312.86,86.00 324.58,88.10 330.44,84.10 336.30,86.10 342.16,89.60 348.02,87.20 353.88,86.60 359.74,84.10" fill="none" stroke="#b3143c" stroke-width="0.95" stroke-linejoin="round"/>
<polyline points="365.10,81.30 373.78,87.70 382.46,91.70 391.14,90.60 399.82,93.90 408.50,95.00 417.18,95.70 425.86,94.30 434.54,96.60 443.22,95.70" fill="none" stroke="#b3143c" stroke-width="0.95" stroke-linejoin="round"/>
<circle cx="283.56" cy="85.60" r="1.2" fill="#b3143c"/>
<circle cx="289.42" cy="85.60" r="1.2" fill="#b3143c"/>
<circle cx="295.28" cy="84.10" r="1.2" fill="#b3143c"/>
<circle cx="301.14" cy="84.10" r="1.2" fill="#b3143c"/>
<line x1="307.00" y1="81.50" x2="307.00" y2="84.50" stroke="#b3143c" stroke-width="0.9"/>
<line x1="306.00" y1="81.50" x2="308.00" y2="81.50" stroke="#b3143c" stroke-width="0.9"/>
<line x1="306.00" y1="84.50" x2="308.00" y2="84.50" stroke="#b3143c" stroke-width="0.9"/>
<circle cx="307.00" cy="83.00" r="1.2" fill="#b3143c"/>
<circle cx="312.86" cy="86.00" r="1.2" fill="#b3143c"/>
<circle cx="324.58" cy="88.10" r="1.2" fill="#b3143c"/>
<circle cx="330.44" cy="84.10" r="1.2" fill="#b3143c"/>
<circle cx="336.30" cy="86.10" r="1.2" fill="#b3143c"/>
<circle cx="342.16" cy="89.60" r="1.2" fill="#b3143c"/>
<circle cx="348.02" cy="87.20" r="1.2" fill="#b3143c"/>
<circle cx="353.88" cy="86.60" r="1.2" fill="#b3143c"/>
<circle cx="359.74" cy="84.10" r="1.2" fill="#b3143c"/>
<line x1="365.10" y1="78.00" x2="365.10" y2="82.50" stroke="#b3143c" stroke-width="0.9"/>
<line x1="364.10" y1="78.00" x2="366.10" y2="78.00" stroke="#b3143c" stroke-width="0.9"/>
<line x1="364.10" y1="82.50" x2="366.10" y2="82.50" stroke="#b3143c" stroke-width="0.9"/>
<circle cx="365.10" cy="81.30" r="1.2" fill="#b3143c"/>
<line x1="373.78" y1="86.50" x2="373.78" y2="89.50" stroke="#b3143c" stroke-width="0.9"/>
<line x1="372.78" y1="86.50" x2="374.78" y2="86.50" stroke="#b3143c" stroke-width="0.9"/>
<line x1="372.78" y1="89.50" x2="374.78" y2="89.50" stroke="#b3143c" stroke-width="0.9"/>
<circle cx="373.78" cy="87.70" r="1.2" fill="#b3143c"/>
<circle cx="382.46" cy="91.70" r="1.2" fill="#b3143c"/>
<circle cx="391.14" cy="90.60" r="1.2" fill="#b3143c"/>
<circle cx="399.82" cy="93.90" r="1.2" fill="#b3143c"/>
<circle cx="408.50" cy="95.00" r="1.2" fill="#b3143c"/>
<circle cx="417.18" cy="95.70" r="1.2" fill="#b3143c"/>
<line x1="425.86" y1="93.00" x2="425.86" y2="95.50" stroke="#b3143c" stroke-width="0.9"/>
<line x1="424.86" y1="93.00" x2="426.86" y2="93.00" stroke="#b3143c" stroke-width="0.9"/>
<line x1="424.86" y1="95.50" x2="426.86" y2="95.50" stroke="#b3143c" stroke-width="0.9"/>
<circle cx="425.86" cy="94.30" r="1.2" fill="#b3143c"/>
<circle cx="434.54" cy="96.60" r="1.2" fill="#b3143c"/>
<circle cx="443.22" cy="95.70" r="1.2" fill="#b3143c"/>
<rect x="284.20" y="56.88" width="1.85" height="1.85" fill="#111"/>
<rect x="287.05" y="56.88" width="1.85" height="1.85" fill="#111"/>
<rect x="289.90" y="56.88" width="1.85" height="1.85" fill="#111"/>
<rect x="292.75" y="56.88" width="1.85" height="1.85" fill="#111"/>
<line x1="301.8" y1="50.7" x2="442.7" y2="50.7" stroke="#505050" stroke-width="1.5"/>
<rect x="367.20" y="45.28" width="1.85" height="1.85" fill="#111"/>
<rect x="370.05" y="45.28" width="1.85" height="1.85" fill="#111"/>
<rect x="372.90" y="45.28" width="1.85" height="1.85" fill="#111"/>
<rect x="375.75" y="45.28" width="1.85" height="1.85" fill="#111"/>
<rect x="341.18" y="92.78" width="1.85" height="1.85" fill="#b3143c"/>
<rect x="361.42" y="73.17" width="1.85" height="1.85" fill="#b3143c"/>
<rect x="364.27" y="73.17" width="1.85" height="1.85" fill="#b3143c"/>
<rect x="367.12" y="73.17" width="1.85" height="1.85" fill="#b3143c"/>
<rect x="377.30" y="95.08" width="1.85" height="1.85" fill="#b3143c"/>
<rect x="380.15" y="95.08" width="1.85" height="1.85" fill="#b3143c"/>
<rect x="383.00" y="95.08" width="1.85" height="1.85" fill="#b3143c"/>
<rect x="385.85" y="95.08" width="1.85" height="1.85" fill="#b3143c"/>
<rect x="387.42" y="84.67" width="1.85" height="1.85" fill="#b3143c"/>
<rect x="390.27" y="84.67" width="1.85" height="1.85" fill="#b3143c"/>
<rect x="393.12" y="84.67" width="1.85" height="1.85" fill="#b3143c"/>
<line x1="398.9" y1="99.5" x2="443.1" y2="99.5" stroke="#b3143c" stroke-width="1.2"/>
<rect x="416.00" y="102.17" width="1.85" height="1.85" fill="#b3143c"/>
<rect x="418.85" y="102.17" width="1.85" height="1.85" fill="#b3143c"/>
<rect x="421.70" y="102.17" width="1.85" height="1.85" fill="#b3143c"/>
<rect x="424.55" y="102.17" width="1.85" height="1.85" fill="#b3143c"/>
<line x1="484" y1="38.3" x2="491" y2="38.3" stroke="#1f3d80" stroke-width="1.1"/><circle cx="487.5" cy="38.3" r="1" fill="#1f3d80"/>
<line x1="484" y1="49.8" x2="491" y2="49.8" stroke="#b3143c" stroke-width="1.1"/><circle cx="487.5" cy="49.8" r="1" fill="#b3143c"/>
<text x="494.00" y="40.50" font-size="7.6" text-anchor="start" font-weight="normal" fill="#111" stroke="#111" stroke-width="0.1">MCV</text>
<text x="494.00" y="52.00" font-size="7.6" text-anchor="start" font-weight="normal" fill="#111" stroke="#111" stroke-width="0.1">RDW</text>
<line x1="278.05" y1="189.70" x2="278.05" y2="271.6" stroke="#484848" stroke-width="1.9"/>
<line x1="274.5" y1="271.60" x2="277.7" y2="271.60" stroke="#1a1a1a" stroke-width="1"/>
<text x="271.60" y="274.35" font-size="8.6" text-anchor="end" font-weight="normal" fill="#1a1a1a" >0</text>
<line x1="274.5" y1="251.90" x2="277.7" y2="251.90" stroke="#1a1a1a" stroke-width="1"/>
<text x="271.60" y="254.65" font-size="8.6" text-anchor="end" font-weight="normal" fill="#1a1a1a" >10</text>
<line x1="274.5" y1="232.10" x2="277.7" y2="232.10" stroke="#1a1a1a" stroke-width="1"/>
<text x="271.60" y="234.85" font-size="8.6" text-anchor="end" font-weight="normal" fill="#1a1a1a" >20</text>
<line x1="274.5" y1="212.40" x2="277.7" y2="212.40" stroke="#1a1a1a" stroke-width="1"/>
<text x="271.60" y="215.15" font-size="8.6" text-anchor="end" font-weight="normal" fill="#1a1a1a" >30</text>
<line x1="274.5" y1="192.60" x2="277.7" y2="192.60" stroke="#1a1a1a" stroke-width="1"/>
<text x="271.60" y="195.35" font-size="8.6" text-anchor="end" font-weight="normal" fill="#1a1a1a" >40</text>
<line x1="277.09999999999997" y1="271.6" x2="359.74" y2="271.6" stroke="#1a1a1a" stroke-width="1.3"/>
<line x1="359.74" y1="269.0" x2="359.74" y2="274.20000000000005" stroke="#1a1a1a" stroke-width="1"/>
<line x1="277.70" y1="271.6" x2="277.70" y2="274.6" stroke="#1a1a1a" stroke-width="0.9"/>
<line x1="283.56" y1="271.6" x2="283.56" y2="273.20000000000005" stroke="#1a1a1a" stroke-width="0.9"/>
<line x1="289.42" y1="271.6" x2="289.42" y2="273.20000000000005" stroke="#1a1a1a" stroke-width="0.9"/>
<line x1="295.28" y1="271.6" x2="295.28" y2="273.20000000000005" stroke="#1a1a1a" stroke-width="0.9"/>
<line x1="301.14" y1="271.6" x2="301.14" y2="273.20000000000005" stroke="#1a1a1a" stroke-width="0.9"/>
<line x1="307.00" y1="271.6" x2="307.00" y2="274.6" stroke="#1a1a1a" stroke-width="0.9"/>
<line x1="312.86" y1="271.6" x2="312.86" y2="273.20000000000005" stroke="#1a1a1a" stroke-width="0.9"/>
<line x1="318.72" y1="271.6" x2="318.72" y2="273.20000000000005" stroke="#1a1a1a" stroke-width="0.9"/>
<line x1="324.58" y1="271.6" x2="324.58" y2="273.20000000000005" stroke="#1a1a1a" stroke-width="0.9"/>
<line x1="330.44" y1="271.6" x2="330.44" y2="273.20000000000005" stroke="#1a1a1a" stroke-width="0.9"/>
<line x1="336.30" y1="271.6" x2="336.30" y2="274.6" stroke="#1a1a1a" stroke-width="0.9"/>
<line x1="342.16" y1="271.6" x2="342.16" y2="273.20000000000005" stroke="#1a1a1a" stroke-width="0.9"/>
<line x1="348.02" y1="271.6" x2="348.02" y2="273.20000000000005" stroke="#1a1a1a" stroke-width="0.9"/>
<line x1="353.88" y1="271.6" x2="353.88" y2="273.20000000000005" stroke="#1a1a1a" stroke-width="0.9"/>
<line x1="359.74" y1="271.6" x2="359.74" y2="273.20000000000005" stroke="#1a1a1a" stroke-width="0.9"/>
<text x="277.70" y="285.00" font-size="8.6" text-anchor="middle" font-weight="normal" fill="#1a1a1a" >0</text>
<text x="307.00" y="285.00" font-size="8.6" text-anchor="middle" font-weight="normal" fill="#1a1a1a" >5</text>
<text x="336.30" y="285.00" font-size="8.6" text-anchor="middle" font-weight="normal" fill="#1a1a1a" >10</text>
<line x1="365.10" y1="271.6" x2="450.66" y2="271.6" stroke="#1a1a1a" stroke-width="1.3"/>
<line x1="365.10" y1="269.0" x2="365.10" y2="274.20000000000005" stroke="#1a1a1a" stroke-width="1"/>
<line x1="366.34" y1="271.6" x2="366.34" y2="273.1" stroke="#1a1a1a" stroke-width="0.8"/>
<line x1="368.82" y1="271.6" x2="368.82" y2="273.1" stroke="#1a1a1a" stroke-width="0.8"/>
<line x1="371.30" y1="271.6" x2="371.30" y2="273.1" stroke="#1a1a1a" stroke-width="0.8"/>
<line x1="373.78" y1="271.6" x2="373.78" y2="273.1" stroke="#1a1a1a" stroke-width="0.8"/>
<line x1="376.26" y1="271.6" x2="376.26" y2="273.1" stroke="#1a1a1a" stroke-width="0.8"/>
<line x1="378.74" y1="271.6" x2="378.74" y2="273.1" stroke="#1a1a1a" stroke-width="0.8"/>
<line x1="381.22" y1="271.6" x2="381.22" y2="273.1" stroke="#1a1a1a" stroke-width="0.8"/>
<line x1="383.70" y1="271.6" x2="383.70" y2="273.1" stroke="#1a1a1a" stroke-width="0.8"/>
<line x1="386.18" y1="271.6" x2="386.18" y2="273.1" stroke="#1a1a1a" stroke-width="0.8"/>
<line x1="388.66" y1="271.6" x2="388.66" y2="274.6" stroke="#1a1a1a" stroke-width="0.8"/>
<line x1="391.14" y1="271.6" x2="391.14" y2="273.1" stroke="#1a1a1a" stroke-width="0.8"/>
<line x1="393.62" y1="271.6" x2="393.62" y2="273.1" stroke="#1a1a1a" stroke-width="0.8"/>
<line x1="396.10" y1="271.6" x2="396.10" y2="273.1" stroke="#1a1a1a" stroke-width="0.8"/>
<line x1="398.58" y1="271.6" x2="398.58" y2="273.1" stroke="#1a1a1a" stroke-width="0.8"/>
<line x1="401.06" y1="271.6" x2="401.06" y2="273.1" stroke="#1a1a1a" stroke-width="0.8"/>
<line x1="403.54" y1="271.6" x2="403.54" y2="273.1" stroke="#1a1a1a" stroke-width="0.8"/>
<line x1="406.02" y1="271.6" x2="406.02" y2="273.1" stroke="#1a1a1a" stroke-width="0.8"/>
<line x1="408.50" y1="271.6" x2="408.50" y2="273.1" stroke="#1a1a1a" stroke-width="0.8"/>
<line x1="410.98" y1="271.6" x2="410.98" y2="273.1" stroke="#1a1a1a" stroke-width="0.8"/>
<line x1="413.46" y1="271.6" x2="413.46" y2="274.6" stroke="#1a1a1a" stroke-width="0.8"/>
<line x1="415.94" y1="271.6" x2="415.94" y2="273.1" stroke="#1a1a1a" stroke-width="0.8"/>
<line x1="418.42" y1="271.6" x2="418.42" y2="273.1" stroke="#1a1a1a" stroke-width="0.8"/>
<line x1="420.90" y1="271.6" x2="420.90" y2="273.1" stroke="#1a1a1a" stroke-width="0.8"/>
<line x1="423.38" y1="271.6" x2="423.38" y2="273.1" stroke="#1a1a1a" stroke-width="0.8"/>
<line x1="425.86" y1="271.6" x2="425.86" y2="273.1" stroke="#1a1a1a" stroke-width="0.8"/>
<line x1="428.34" y1="271.6" x2="428.34" y2="273.1" stroke="#1a1a1a" stroke-width="0.8"/>
<line x1="430.82" y1="271.6" x2="430.82" y2="273.1" stroke="#1a1a1a" stroke-width="0.8"/>
<line x1="433.30" y1="271.6" x2="433.30" y2="273.1" stroke="#1a1a1a" stroke-width="0.8"/>
<line x1="435.78" y1="271.6" x2="435.78" y2="273.1" stroke="#1a1a1a" stroke-width="0.8"/>
<line x1="438.26" y1="271.6" x2="438.26" y2="274.6" stroke="#1a1a1a" stroke-width="0.8"/>
<line x1="440.74" y1="271.6" x2="440.74" y2="273.1" stroke="#1a1a1a" stroke-width="0.8"/>
<line x1="443.22" y1="271.6" x2="443.22" y2="273.1" stroke="#1a1a1a" stroke-width="0.8"/>
<line x1="445.70" y1="271.6" x2="445.70" y2="273.1" stroke="#1a1a1a" stroke-width="0.8"/>
<line x1="448.18" y1="271.6" x2="448.18" y2="273.1" stroke="#1a1a1a" stroke-width="0.8"/>
<line x1="450.66" y1="271.6" x2="450.66" y2="273.1" stroke="#1a1a1a" stroke-width="0.8"/>
<text x="388.66" y="285.00" font-size="8.6" text-anchor="middle" font-weight="normal" fill="#1a1a1a" >40</text>
<text x="413.46" y="285.00" font-size="8.6" text-anchor="middle" font-weight="normal" fill="#1a1a1a" >60</text>
<text x="438.26" y="285.00" font-size="8.6" text-anchor="middle" font-weight="normal" fill="#1a1a1a" >80</text>
<g transform="translate(364.68,298.40) rotate(0) scale(0.62,1)"><text x="0" y="0" font-size="9.8" text-anchor="middle" fill="#111" stroke="#111" stroke-width="0.2" textLength="75.32" lengthAdjust="spacing">Days after birth</text></g>
<g transform="translate(256.10,230.90) rotate(-90) scale(0.62,1)"><text x="0" y="0" font-size="9.2" text-anchor="middle" fill="#111" stroke="#111" stroke-width="0.22" textLength="47.42" lengthAdjust="spacing">MCH (pg)</text></g>
<polyline points="283.56,208.80 289.42,220.40 295.28,213.00 301.14,228.00 307.00,223.20 312.86,231.60 324.58,236.60 330.44,233.10 336.30,242.60 342.16,237.20 348.02,235.60 353.88,242.60 359.74,239.90" fill="none" stroke="#1f3d80" stroke-width="0.95" stroke-linejoin="round"/>
<polyline points="365.10,243.40 373.78,240.10 382.46,240.60 391.14,241.50 399.82,241.50 408.50,241.50 417.18,241.00 425.86,241.50 434.54,242.30 443.22,241.50" fill="none" stroke="#1f3d80" stroke-width="0.95" stroke-linejoin="round"/>
<line x1="283.56" y1="206.60" x2="283.56" y2="210.50" stroke="#1f3d80" stroke-width="0.9"/>
<line x1="282.56" y1="206.60" x2="284.56" y2="206.60" stroke="#1f3d80" stroke-width="0.9"/>
<line x1="282.56" y1="210.50" x2="284.56" y2="210.50" stroke="#1f3d80" stroke-width="0.9"/>
<circle cx="283.56" cy="208.80" r="1.2" fill="#1f3d80"/>
<line x1="289.42" y1="211.10" x2="289.42" y2="229.90" stroke="#1f3d80" stroke-width="0.9"/>
<line x1="288.42" y1="211.10" x2="290.42" y2="211.10" stroke="#1f3d80" stroke-width="0.9"/>
<line x1="288.42" y1="229.90" x2="290.42" y2="229.90" stroke="#1f3d80" stroke-width="0.9"/>
<circle cx="289.42" cy="220.40" r="1.2" fill="#1f3d80"/>
<line x1="295.28" y1="210.80" x2="295.28" y2="214.30" stroke="#1f3d80" stroke-width="0.9"/>
<line x1="294.28" y1="210.80" x2="296.28" y2="210.80" stroke="#1f3d80" stroke-width="0.9"/>
<line x1="294.28" y1="214.30" x2="296.28" y2="214.30" stroke="#1f3d80" stroke-width="0.9"/>
<circle cx="295.28" cy="213.00" r="1.2" fill="#1f3d80"/>
<circle cx="301.14" cy="228.00" r="1.2" fill="#1f3d80"/>
<line x1="307.00" y1="220.10" x2="307.00" y2="224.80" stroke="#1f3d80" stroke-width="0.9"/>
<line x1="306.00" y1="220.10" x2="308.00" y2="220.10" stroke="#1f3d80" stroke-width="0.9"/>
<line x1="306.00" y1="224.80" x2="308.00" y2="224.80" stroke="#1f3d80" stroke-width="0.9"/>
<circle cx="307.00" cy="223.20" r="1.2" fill="#1f3d80"/>
<circle cx="312.86" cy="231.60" r="1.2" fill="#1f3d80"/>
<circle cx="324.58" cy="236.60" r="1.2" fill="#1f3d80"/>
<line x1="330.44" y1="231.30" x2="330.44" y2="234.90" stroke="#1f3d80" stroke-width="0.9"/>
<line x1="329.44" y1="231.30" x2="331.44" y2="231.30" stroke="#1f3d80" stroke-width="0.9"/>
<line x1="329.44" y1="234.90" x2="331.44" y2="234.90" stroke="#1f3d80" stroke-width="0.9"/>
<circle cx="330.44" cy="233.10" r="1.2" fill="#1f3d80"/>
<line x1="336.30" y1="233.60" x2="336.30" y2="252.80" stroke="#1f3d80" stroke-width="0.9"/>
<line x1="335.30" y1="233.60" x2="337.30" y2="233.60" stroke="#1f3d80" stroke-width="0.9"/>
<line x1="335.30" y1="252.80" x2="337.30" y2="252.80" stroke="#1f3d80" stroke-width="0.9"/>
<circle cx="336.30" cy="242.60" r="1.2" fill="#1f3d80"/>
<circle cx="342.16" cy="237.20" r="1.2" fill="#1f3d80"/>
<circle cx="348.02" cy="235.60" r="1.2" fill="#1f3d80"/>
<circle cx="353.88" cy="242.60" r="1.2" fill="#1f3d80"/>
<line x1="359.74" y1="237.60" x2="359.74" y2="241.60" stroke="#1f3d80" stroke-width="0.9"/>
<line x1="358.74" y1="237.60" x2="360.74" y2="237.60" stroke="#1f3d80" stroke-width="0.9"/>
<line x1="358.74" y1="241.60" x2="360.74" y2="241.60" stroke="#1f3d80" stroke-width="0.9"/>
<circle cx="359.74" cy="239.90" r="1.2" fill="#1f3d80"/>
<circle cx="365.10" cy="243.40" r="1.2" fill="#1f3d80"/>
<circle cx="373.78" cy="240.10" r="1.2" fill="#1f3d80"/>
<circle cx="382.46" cy="240.60" r="1.2" fill="#1f3d80"/>
<circle cx="391.14" cy="241.50" r="1.2" fill="#1f3d80"/>
<circle cx="399.82" cy="241.50" r="1.2" fill="#1f3d80"/>
<circle cx="408.50" cy="241.50" r="1.2" fill="#1f3d80"/>
<circle cx="417.18" cy="241.00" r="1.2" fill="#1f3d80"/>
<circle cx="425.86" cy="241.50" r="1.2" fill="#1f3d80"/>
<circle cx="434.54" cy="242.30" r="1.2" fill="#1f3d80"/>
<circle cx="443.22" cy="241.50" r="1.2" fill="#1f3d80"/>
<rect x="287.25" y="206.97" width="1.85" height="1.85" fill="#111"/>
<rect x="290.10" y="206.97" width="1.85" height="1.85" fill="#111"/>
<rect x="304.95" y="214.67" width="1.85" height="1.85" fill="#111"/>
<rect x="307.80" y="214.67" width="1.85" height="1.85" fill="#111"/>
<rect x="296.30" y="231.97" width="1.85" height="1.85" fill="#111"/>
<rect x="299.15" y="231.97" width="1.85" height="1.85" fill="#111"/>
<rect x="302.00" y="231.97" width="1.85" height="1.85" fill="#111"/>
<rect x="304.85" y="231.97" width="1.85" height="1.85" fill="#111"/>
<line x1="311.8" y1="225.6" x2="442.7" y2="225.6" stroke="#222" stroke-width="1.2"/>
<rect x="372.10" y="220.38" width="1.85" height="1.85" fill="#111"/>
<rect x="374.95" y="220.38" width="1.85" height="1.85" fill="#111"/>
<rect x="377.80" y="220.38" width="1.85" height="1.85" fill="#111"/>
<rect x="380.65" y="220.38" width="1.85" height="1.85" fill="#111"/>
<line x1="278.05" y1="344.70" x2="278.05" y2="426.1" stroke="#484848" stroke-width="1.9"/>
<line x1="274.5" y1="426.10" x2="277.7" y2="426.10" stroke="#1a1a1a" stroke-width="1"/>
<text x="271.60" y="428.85" font-size="8.6" text-anchor="end" font-weight="normal" fill="#1a1a1a" >0</text>
<line x1="274.5" y1="406.50" x2="277.7" y2="406.50" stroke="#1a1a1a" stroke-width="1"/>
<text x="271.60" y="409.25" font-size="8.6" text-anchor="end" font-weight="normal" fill="#1a1a1a" >10</text>
<line x1="274.5" y1="386.80" x2="277.7" y2="386.80" stroke="#1a1a1a" stroke-width="1"/>
<text x="271.60" y="389.55" font-size="8.6" text-anchor="end" font-weight="normal" fill="#1a1a1a" >20</text>
<line x1="274.5" y1="367.20" x2="277.7" y2="367.20" stroke="#1a1a1a" stroke-width="1"/>
<text x="271.60" y="369.95" font-size="8.6" text-anchor="end" font-weight="normal" fill="#1a1a1a" >30</text>
<line x1="274.5" y1="347.60" x2="277.7" y2="347.60" stroke="#1a1a1a" stroke-width="1"/>
<text x="271.60" y="350.35" font-size="8.6" text-anchor="end" font-weight="normal" fill="#1a1a1a" >40</text>
<line x1="277.09999999999997" y1="426.1" x2="359.74" y2="426.1" stroke="#1a1a1a" stroke-width="1.3"/>
<line x1="359.74" y1="423.5" x2="359.74" y2="428.70000000000005" stroke="#1a1a1a" stroke-width="1"/>
<line x1="277.70" y1="426.1" x2="277.70" y2="429.1" stroke="#1a1a1a" stroke-width="0.9"/>
<line x1="283.56" y1="426.1" x2="283.56" y2="427.70000000000005" stroke="#1a1a1a" stroke-width="0.9"/>
<line x1="289.42" y1="426.1" x2="289.42" y2="427.70000000000005" stroke="#1a1a1a" stroke-width="0.9"/>
<line x1="295.28" y1="426.1" x2="295.28" y2="427.70000000000005" stroke="#1a1a1a" stroke-width="0.9"/>
<line x1="301.14" y1="426.1" x2="301.14" y2="427.70000000000005" stroke="#1a1a1a" stroke-width="0.9"/>
<line x1="307.00" y1="426.1" x2="307.00" y2="429.1" stroke="#1a1a1a" stroke-width="0.9"/>
<line x1="312.86" y1="426.1" x2="312.86" y2="427.70000000000005" stroke="#1a1a1a" stroke-width="0.9"/>
<line x1="318.72" y1="426.1" x2="318.72" y2="427.70000000000005" stroke="#1a1a1a" stroke-width="0.9"/>
<line x1="324.58" y1="426.1" x2="324.58" y2="427.70000000000005" stroke="#1a1a1a" stroke-width="0.9"/>
<line x1="330.44" y1="426.1" x2="330.44" y2="427.70000000000005" stroke="#1a1a1a" stroke-width="0.9"/>
<line x1="336.30" y1="426.1" x2="336.30" y2="429.1" stroke="#1a1a1a" stroke-width="0.9"/>
<line x1="342.16" y1="426.1" x2="342.16" y2="427.70000000000005" stroke="#1a1a1a" stroke-width="0.9"/>
<line x1="348.02" y1="426.1" x2="348.02" y2="427.70000000000005" stroke="#1a1a1a" stroke-width="0.9"/>
<line x1="353.88" y1="426.1" x2="353.88" y2="427.70000000000005" stroke="#1a1a1a" stroke-width="0.9"/>
<line x1="359.74" y1="426.1" x2="359.74" y2="427.70000000000005" stroke="#1a1a1a" stroke-width="0.9"/>
<text x="277.70" y="439.80" font-size="8.6" text-anchor="middle" font-weight="normal" fill="#1a1a1a" >0</text>
<text x="307.00" y="439.80" font-size="8.6" text-anchor="middle" font-weight="normal" fill="#1a1a1a" >5</text>
<text x="336.30" y="439.80" font-size="8.6" text-anchor="middle" font-weight="normal" fill="#1a1a1a" >10</text>
<line x1="365.10" y1="426.1" x2="450.66" y2="426.1" stroke="#1a1a1a" stroke-width="1.3"/>
<line x1="365.10" y1="423.5" x2="365.10" y2="428.70000000000005" stroke="#1a1a1a" stroke-width="1"/>
<line x1="366.34" y1="426.1" x2="366.34" y2="427.6" stroke="#1a1a1a" stroke-width="0.8"/>
<line x1="368.82" y1="426.1" x2="368.82" y2="427.6" stroke="#1a1a1a" stroke-width="0.8"/>
<line x1="371.30" y1="426.1" x2="371.30" y2="427.6" stroke="#1a1a1a" stroke-width="0.8"/>
<line x1="373.78" y1="426.1" x2="373.78" y2="427.6" stroke="#1a1a1a" stroke-width="0.8"/>
<line x1="376.26" y1="426.1" x2="376.26" y2="427.6" stroke="#1a1a1a" stroke-width="0.8"/>
<line x1="378.74" y1="426.1" x2="378.74" y2="427.6" stroke="#1a1a1a" stroke-width="0.8"/>
<line x1="381.22" y1="426.1" x2="381.22" y2="427.6" stroke="#1a1a1a" stroke-width="0.8"/>
<line x1="383.70" y1="426.1" x2="383.70" y2="427.6" stroke="#1a1a1a" stroke-width="0.8"/>
<line x1="386.18" y1="426.1" x2="386.18" y2="427.6" stroke="#1a1a1a" stroke-width="0.8"/>
<line x1="388.66" y1="426.1" x2="388.66" y2="429.1" stroke="#1a1a1a" stroke-width="0.8"/>
<line x1="391.14" y1="426.1" x2="391.14" y2="427.6" stroke="#1a1a1a" stroke-width="0.8"/>
<line x1="393.62" y1="426.1" x2="393.62" y2="427.6" stroke="#1a1a1a" stroke-width="0.8"/>
<line x1="396.10" y1="426.1" x2="396.10" y2="427.6" stroke="#1a1a1a" stroke-width="0.8"/>
<line x1="398.58" y1="426.1" x2="398.58" y2="427.6" stroke="#1a1a1a" stroke-width="0.8"/>
<line x1="401.06" y1="426.1" x2="401.06" y2="427.6" stroke="#1a1a1a" stroke-width="0.8"/>
<line x1="403.54" y1="426.1" x2="403.54" y2="427.6" stroke="#1a1a1a" stroke-width="0.8"/>
<line x1="406.02" y1="426.1" x2="406.02" y2="427.6" stroke="#1a1a1a" stroke-width="0.8"/>
<line x1="408.50" y1="426.1" x2="408.50" y2="427.6" stroke="#1a1a1a" stroke-width="0.8"/>
<line x1="410.98" y1="426.1" x2="410.98" y2="427.6" stroke="#1a1a1a" stroke-width="0.8"/>
<line x1="413.46" y1="426.1" x2="413.46" y2="429.1" stroke="#1a1a1a" stroke-width="0.8"/>
<line x1="415.94" y1="426.1" x2="415.94" y2="427.6" stroke="#1a1a1a" stroke-width="0.8"/>
<line x1="418.42" y1="426.1" x2="418.42" y2="427.6" stroke="#1a1a1a" stroke-width="0.8"/>
<line x1="420.90" y1="426.1" x2="420.90" y2="427.6" stroke="#1a1a1a" stroke-width="0.8"/>
<line x1="423.38" y1="426.1" x2="423.38" y2="427.6" stroke="#1a1a1a" stroke-width="0.8"/>
<line x1="425.86" y1="426.1" x2="425.86" y2="427.6" stroke="#1a1a1a" stroke-width="0.8"/>
<line x1="428.34" y1="426.1" x2="428.34" y2="427.6" stroke="#1a1a1a" stroke-width="0.8"/>
<line x1="430.82" y1="426.1" x2="430.82" y2="427.6" stroke="#1a1a1a" stroke-width="0.8"/>
<line x1="433.30" y1="426.1" x2="433.30" y2="427.6" stroke="#1a1a1a" stroke-width="0.8"/>
<line x1="435.78" y1="426.1" x2="435.78" y2="427.6" stroke="#1a1a1a" stroke-width="0.8"/>
<line x1="438.26" y1="426.1" x2="438.26" y2="429.1" stroke="#1a1a1a" stroke-width="0.8"/>
<line x1="440.74" y1="426.1" x2="440.74" y2="427.6" stroke="#1a1a1a" stroke-width="0.8"/>
<line x1="443.22" y1="426.1" x2="443.22" y2="427.6" stroke="#1a1a1a" stroke-width="0.8"/>
<line x1="445.70" y1="426.1" x2="445.70" y2="427.6" stroke="#1a1a1a" stroke-width="0.8"/>
<line x1="448.18" y1="426.1" x2="448.18" y2="427.6" stroke="#1a1a1a" stroke-width="0.8"/>
<line x1="450.66" y1="426.1" x2="450.66" y2="427.6" stroke="#1a1a1a" stroke-width="0.8"/>
<text x="388.66" y="439.80" font-size="8.6" text-anchor="middle" font-weight="normal" fill="#1a1a1a" >40</text>
<text x="413.46" y="439.80" font-size="8.6" text-anchor="middle" font-weight="normal" fill="#1a1a1a" >60</text>
<text x="438.26" y="439.80" font-size="8.6" text-anchor="middle" font-weight="normal" fill="#1a1a1a" >80</text>
<g transform="translate(364.68,453.20) rotate(0) scale(0.62,1)"><text x="0" y="0" font-size="9.8" text-anchor="middle" fill="#111" stroke="#111" stroke-width="0.2" textLength="75.32" lengthAdjust="spacing">Days after birth</text></g>
<g transform="translate(256.10,384.80) rotate(-90) scale(0.62,1)"><text x="0" y="0" font-size="9.2" text-anchor="middle" fill="#111" stroke="#111" stroke-width="0.22" textLength="65.81" lengthAdjust="spacing">CHCM (g/dL)</text></g>
<polyline points="283.56,361.80 289.42,359.90 295.28,362.90 301.14,364.20 307.00,365.20 312.86,364.60 324.58,364.90 330.44,364.20 336.30,362.90 342.16,365.60 348.02,364.50 353.88,365.50 359.74,366.10" fill="none" stroke="#1f3d80" stroke-width="0.95" stroke-linejoin="round"/>
<polyline points="365.10,368.60 373.78,366.60 382.46,366.20 391.14,364.20 399.82,364.20 408.50,366.20 417.18,364.80 425.86,367.70 434.54,363.30 443.22,366.70" fill="none" stroke="#1f3d80" stroke-width="0.95" stroke-linejoin="round"/>
<circle cx="283.56" cy="361.80" r="1.2" fill="#1f3d80"/>
<circle cx="289.42" cy="359.90" r="1.2" fill="#1f3d80"/>
<circle cx="295.28" cy="362.90" r="1.2" fill="#1f3d80"/>
<circle cx="301.14" cy="364.20" r="1.2" fill="#1f3d80"/>
<circle cx="307.00" cy="365.20" r="1.2" fill="#1f3d80"/>
<circle cx="312.86" cy="364.60" r="1.2" fill="#1f3d80"/>
<circle cx="324.58" cy="364.90" r="1.2" fill="#1f3d80"/>
<circle cx="330.44" cy="364.20" r="1.2" fill="#1f3d80"/>
<circle cx="336.30" cy="362.90" r="1.2" fill="#1f3d80"/>
<circle cx="342.16" cy="365.60" r="1.2" fill="#1f3d80"/>
<circle cx="348.02" cy="364.50" r="1.2" fill="#1f3d80"/>
<line x1="353.88" y1="364.00" x2="353.88" y2="366.80" stroke="#1f3d80" stroke-width="0.9"/>
<line x1="352.88" y1="364.00" x2="354.88" y2="364.00" stroke="#1f3d80" stroke-width="0.9"/>
<line x1="352.88" y1="366.80" x2="354.88" y2="366.80" stroke="#1f3d80" stroke-width="0.9"/>
<circle cx="353.88" cy="365.50" r="1.2" fill="#1f3d80"/>
<circle cx="359.74" cy="366.10" r="1.2" fill="#1f3d80"/>
<line x1="365.10" y1="367.50" x2="365.10" y2="369.50" stroke="#1f3d80" stroke-width="0.9"/>
<line x1="364.10" y1="367.50" x2="366.10" y2="367.50" stroke="#1f3d80" stroke-width="0.9"/>
<line x1="364.10" y1="369.50" x2="366.10" y2="369.50" stroke="#1f3d80" stroke-width="0.9"/>
<circle cx="365.10" cy="368.60" r="1.2" fill="#1f3d80"/>
<circle cx="373.78" cy="366.60" r="1.2" fill="#1f3d80"/>
<circle cx="382.46" cy="366.20" r="1.2" fill="#1f3d80"/>
<circle cx="391.14" cy="364.20" r="1.2" fill="#1f3d80"/>
<circle cx="399.82" cy="364.20" r="1.2" fill="#1f3d80"/>
<circle cx="408.50" cy="366.20" r="1.2" fill="#1f3d80"/>
<circle cx="417.18" cy="364.80" r="1.2" fill="#1f3d80"/>
<circle cx="425.86" cy="367.70" r="1.2" fill="#1f3d80"/>
<circle cx="434.54" cy="363.30" r="1.2" fill="#1f3d80"/>
<line x1="443.22" y1="365.50" x2="443.22" y2="368.00" stroke="#1f3d80" stroke-width="0.9"/>
<line x1="442.22" y1="365.50" x2="444.22" y2="365.50" stroke="#1f3d80" stroke-width="0.9"/>
<line x1="442.22" y1="368.00" x2="444.22" y2="368.00" stroke="#1f3d80" stroke-width="0.9"/>
<circle cx="443.22" cy="366.70" r="1.2" fill="#1f3d80"/>
<rect x="0.5" y="0.5" width="519" height="462" fill="none" stroke="#000" stroke-width="1"/>
</svg>
</body></html>
